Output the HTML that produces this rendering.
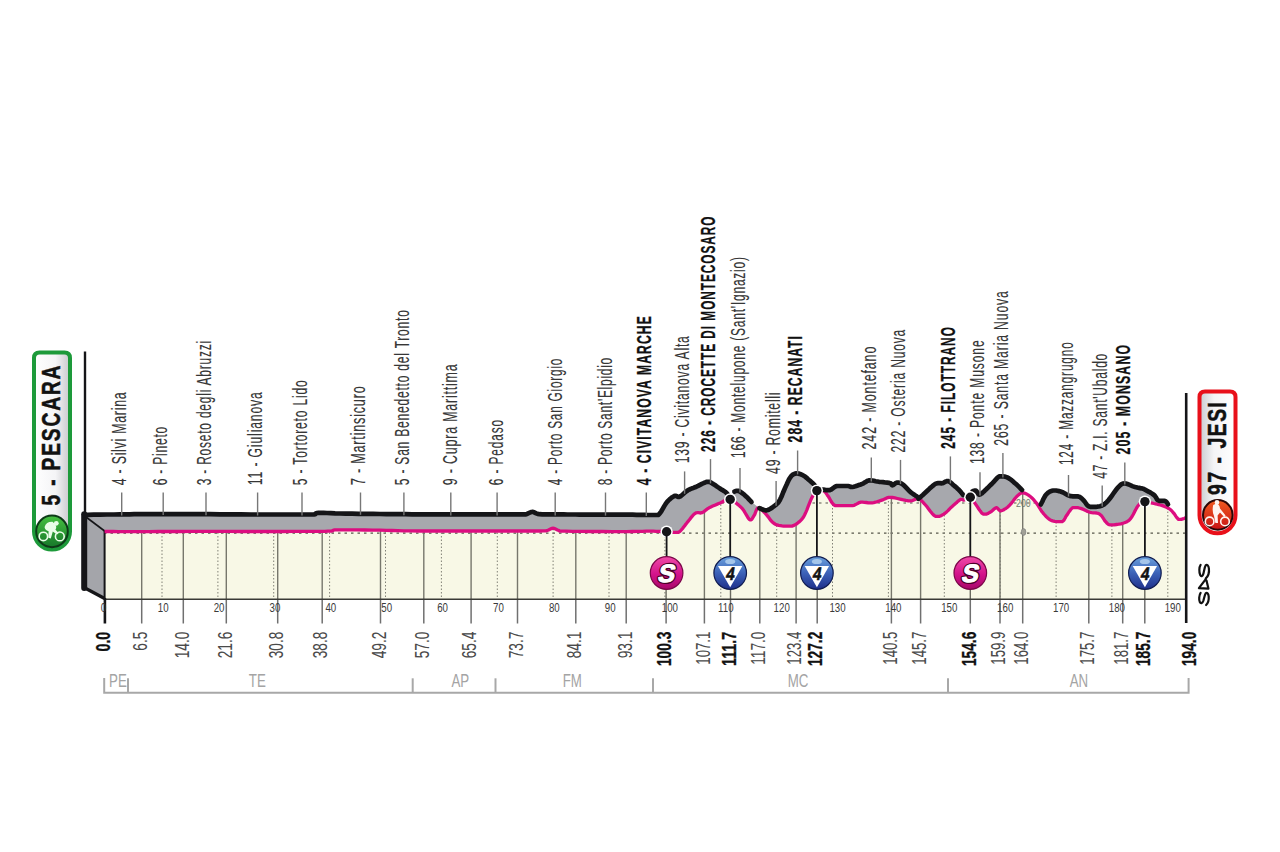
<!DOCTYPE html><html><head><meta charset="utf-8"><style>html,body{margin:0;padding:0;background:#fff;}svg{display:block}</style></head><body>
<svg width="1280" height="852" viewBox="0 0 1280 852" font-family="Liberation Sans, sans-serif">
<defs>
<linearGradient id="gS" x1="0" y1="0" x2="0" y2="1"><stop offset="0" stop-color="#f04aa8"/><stop offset="0.55" stop-color="#d2128a"/><stop offset="1" stop-color="#a8086a"/></linearGradient>
<linearGradient id="gK" x1="0" y1="0" x2="0" y2="1"><stop offset="0" stop-color="#6aa0dc"/><stop offset="0.5" stop-color="#3c62b8"/><stop offset="1" stop-color="#1e2f8a"/></linearGradient>
<linearGradient id="gG" x1="0" y1="0" x2="0" y2="1"><stop offset="0" stop-color="#46c040"/><stop offset="1" stop-color="#16782a"/></linearGradient>
<linearGradient id="gR" x1="0" y1="0" x2="0" y2="1"><stop offset="0" stop-color="#f05a20"/><stop offset="1" stop-color="#c81414"/></linearGradient>
<linearGradient id="pillL" x1="0" y1="0" x2="1" y2="0"><stop offset="0" stop-color="#ffffff"/><stop offset="0.6" stop-color="#f4f4f6"/><stop offset="1" stop-color="#c8c8cc"/></linearGradient>
<linearGradient id="pillR" x1="0" y1="0" x2="1" y2="0"><stop offset="0" stop-color="#c8ccd0"/><stop offset="0.4" stop-color="#f4f4f6"/><stop offset="1" stop-color="#ffffff"/></linearGradient>

<clipPath id="cream"><polygon points="104.6,531.5 108.2,531.5 112.9,531.5 118.5,531.6 125.1,531.6 132.3,531.6 140.0,531.6 148.6,531.6 158.2,531.5 168.5,531.5 179.1,531.5 189.7,531.4 200.0,531.4 210.0,531.4 220.0,531.4 230.0,531.4 240.0,531.5 250.0,531.5 260.0,531.5 270.6,531.5 281.8,531.5 293.0,531.4 303.6,531.4 312.8,531.3 320.0,531.3 324.8,531.3 327.8,531.2 329.4,531.2 330.2,531.2 330.9,531.1 332.0,531.0 332.9,530.8 333.0,530.6 333.4,530.1 334.8,529.9 337.8,529.8 342.8,529.8 349.3,529.8 356.8,529.9 364.7,530.0 372.7,530.1 380.0,530.2 386.3,530.3 392.0,530.5 397.6,530.6 403.8,530.8 411.0,530.9 420.0,531.0 431.5,531.0 445.2,531.0 460.0,531.0 474.8,531.0 488.5,531.0 500.0,531.0 509.4,531.0 517.5,531.0 524.5,531.0 530.6,531.0 535.7,531.0 540.0,531.0 543.2,530.9 545.0,530.9 545.9,530.8 546.4,530.7 546.7,530.5 547.5,530.3 548.5,530.0 549.5,529.5 550.4,529.1 551.2,528.6 552.1,528.3 553.0,528.2 553.9,528.3 554.8,528.6 555.6,529.1 556.5,529.5 557.5,530.0 558.5,530.3 559.1,530.5 559.1,530.7 559.2,530.9 560.0,531.0 562.0,531.1 566.0,531.2 572.6,531.3 581.4,531.4 591.6,531.5 602.1,531.5 611.9,531.6 620.0,531.6 626.6,531.6 632.4,531.5 637.5,531.4 642.1,531.3 646.2,531.2 650.0,531.2 653.3,531.2 656.0,531.3 658.3,531.4 660.2,531.5 662.1,531.6 664.0,531.7 665.9,531.8 667.8,532.0 669.5,532.1 671.1,532.3 672.5,532.4 673.9,532.4 675.1,532.4 676.0,532.4 676.9,532.4 677.7,532.4 678.5,532.3 679.5,531.7 680.6,530.8 681.7,529.5 682.9,528.1 684.1,526.5 685.3,524.9 686.6,523.3 687.9,521.6 689.4,519.8 690.8,517.9 692.3,516.1 693.7,514.5 695.0,513.4 696.2,512.8 697.4,512.7 698.6,512.7 699.7,512.9 700.8,513.0 702.0,512.7 703.1,512.1 704.2,511.4 705.3,510.5 706.4,509.6 707.7,508.7 709.1,507.8 710.8,507.0 712.7,506.1 714.8,505.2 716.8,504.4 718.7,503.6 720.3,502.9 721.6,502.3 722.6,501.7 723.5,501.2 724.3,500.8 725.1,500.4 725.9,500.1 726.7,499.8 727.4,499.6 728.0,499.4 728.7,499.4 729.4,499.4 730.2,499.4 731.0,499.7 731.9,500.2 732.8,500.7 733.8,501.4 734.8,502.1 735.8,502.9 736.9,503.7 738.0,504.6 739.2,505.6 740.4,506.7 741.6,507.9 742.8,509.2 744.0,510.9 745.2,513.0 746.5,515.2 747.7,517.2 748.8,518.8 749.8,519.8 750.7,519.8 751.4,519.6 752.1,518.8 752.8,517.7 753.4,516.6 754.1,515.5 754.8,514.3 755.4,512.7 756.0,511.0 756.7,509.5 757.4,508.4 758.3,507.8 759.3,507.9 760.4,508.5 761.5,509.5 762.8,510.7 764.0,512.1 765.3,513.4 766.6,514.9 768.0,516.6 769.4,518.5 770.8,520.4 772.3,522.0 773.8,523.3 775.4,524.2 777.0,524.9 778.7,525.3 780.4,525.6 782.0,525.9 783.6,526.1 785.1,526.1 786.6,526.1 788.0,526.1 789.3,526.1 790.7,526.1 792.0,526.1 793.3,525.7 794.5,525.1 795.7,524.4 796.9,523.7 798.0,522.8 799.1,521.9 800.1,521.0 801.0,520.1 801.9,519.1 802.8,518.0 803.7,516.6 804.7,514.8 805.8,512.4 807.0,509.6 808.2,506.4 809.5,503.2 810.6,500.4 811.7,498.0 812.6,496.2 813.4,494.7 814.1,493.4 814.9,492.4 815.7,491.6 816.6,490.9 817.7,490.9 818.9,490.9 820.2,490.9 821.4,490.9 822.6,490.9 823.7,490.9 824.6,491.5 825.4,492.3 826.1,493.2 826.7,494.2 827.5,495.4 828.4,496.6 829.3,498.0 830.2,499.7 831.2,501.5 832.3,503.2 833.7,504.7 835.5,505.7 837.8,505.7 840.7,505.7 843.8,505.7 847.0,505.7 849.9,505.7 852.3,505.7 854.2,505.3 855.6,504.6 856.9,503.9 858.1,503.2 859.3,502.6 860.8,502.2 862.5,502.2 864.4,502.3 866.3,502.5 868.3,502.8 870.2,502.9 872.0,502.9 873.7,502.6 875.5,502.2 877.1,501.7 878.8,501.2 880.4,500.6 881.9,500.1 883.3,499.6 884.6,499.0 885.8,498.4 887.1,497.8 888.6,497.4 890.3,497.3 892.4,497.5 894.8,497.9 897.4,498.5 900.0,499.1 902.4,499.7 904.4,500.1 906.0,500.4 907.3,500.6 908.3,500.8 909.3,500.8 910.3,500.8 911.4,500.8 912.6,500.5 913.7,500.0 914.9,499.4 916.1,498.9 917.2,498.7 918.4,498.7 919.5,499.2 920.7,500.0 921.8,501.0 922.9,502.2 924.2,503.6 925.5,505.0 927.0,506.8 928.6,508.9 930.3,511.2 932.0,513.3 933.7,515.1 935.3,516.3 936.8,516.3 938.2,516.3 939.6,516.3 941.0,515.7 942.4,514.9 943.8,514.1 945.2,513.1 946.6,511.9 948.0,510.6 949.4,509.1 950.8,507.7 952.2,506.4 953.7,505.1 955.2,503.7 956.7,502.4 958.2,501.1 959.5,500.1 960.6,499.4 961.4,499.4 962.0,499.4 962.5,499.5 962.9,499.8 963.4,500.1 964.1,500.1 965.0,499.7 966.0,499.1 967.1,498.4 968.2,497.7 969.2,497.3 970.2,497.3 971.0,497.7 971.7,498.3 972.3,499.2 973.0,500.3 973.7,501.5 974.7,502.9 975.9,504.6 977.3,506.7 978.8,509.0 980.3,511.1 981.7,512.9 983.1,514.1 984.3,514.1 985.5,514.1 986.7,514.1 987.8,513.6 988.9,512.9 990.0,512.3 991.1,511.6 992.2,510.7 993.3,509.7 994.3,508.8 995.4,508.1 996.3,507.7 997.1,507.9 997.8,508.5 998.5,509.3 999.2,510.1 1000.0,510.6 1000.9,510.8 1002.0,510.5 1003.3,510.0 1004.6,509.2 1006.1,508.3 1007.5,507.2 1008.8,506.1 1010.1,504.7 1011.5,503.1 1012.8,501.4 1014.1,499.6 1015.4,498.0 1016.6,496.7 1017.7,495.6 1018.7,494.7 1019.7,493.9 1020.7,493.3 1021.7,492.9 1022.8,492.8 1024.0,493.0 1025.3,493.4 1026.7,494.1 1028.1,494.9 1029.4,495.8 1030.6,496.7 1031.7,497.7 1032.8,498.7 1033.8,499.9 1034.9,501.2 1035.9,502.5 1036.9,503.8 1037.9,505.2 1038.9,506.8 1039.9,508.5 1040.9,510.1 1042.0,511.7 1043.1,513.1 1044.3,514.5 1045.5,515.8 1046.7,517.1 1048.0,518.3 1049.4,519.4 1050.9,520.2 1052.6,520.9 1054.6,521.4 1056.6,521.7 1058.6,521.7 1060.4,521.7 1061.9,521.7 1063.0,521.1 1063.9,520.3 1064.5,519.2 1065.2,518.0 1065.8,516.7 1066.6,515.5 1067.5,514.2 1068.5,512.7 1069.5,511.2 1070.6,509.7 1071.7,508.5 1072.8,507.7 1074.0,507.7 1075.2,507.7 1076.5,507.7 1077.8,507.7 1079.2,508.0 1080.6,508.4 1082.1,508.9 1083.6,509.5 1085.2,510.3 1086.8,511.1 1088.4,511.7 1090.0,512.3 1091.6,512.6 1093.3,512.8 1094.9,512.9 1096.5,513.0 1098.0,513.3 1099.4,513.9 1100.6,514.9 1101.8,516.2 1102.8,517.7 1103.8,519.2 1104.7,520.6 1105.6,521.7 1106.4,522.5 1107.0,523.3 1107.6,523.8 1108.2,524.3 1109.1,524.6 1110.3,524.8 1112.0,524.8 1114.1,524.8 1116.4,524.5 1118.7,524.2 1120.9,523.8 1122.8,523.3 1124.4,522.8 1125.7,522.3 1127.0,521.7 1128.2,520.9 1129.4,519.9 1130.6,518.6 1131.9,516.8 1133.2,514.5 1134.5,511.9 1135.9,509.3 1137.1,507.1 1138.4,505.3 1139.6,504.1 1140.8,503.1 1142.0,502.5 1143.2,502.0 1144.3,501.7 1145.5,501.5 1146.6,501.5 1147.8,501.6 1148.9,502.0 1150.0,502.4 1151.2,502.8 1152.5,503.2 1153.9,503.5 1155.5,503.8 1157.1,504.2 1158.7,504.6 1160.2,505.0 1161.7,505.4 1163.1,505.9 1164.5,506.4 1165.9,507.0 1167.1,507.6 1168.3,508.3 1169.4,508.9 1170.3,509.5 1171.1,510.2 1171.7,510.8 1172.3,511.5 1173.0,512.3 1173.7,513.1 1174.5,514.1 1175.3,515.3 1176.1,516.6 1176.9,517.7 1177.8,518.7 1178.6,519.4 1179.4,519.4 1180.3,519.4 1181.2,519.4 1182.0,519.2 1182.8,518.9 1183.5,518.7 1184.1,518.5 1184.6,518.3 1185.1,518.1 1185.4,517.8 1185.8,517.6 1186.0,517.5 1186.0,599.0 104.6,599.0"/></clipPath>
</defs>
<polygon points="104.6,531.5 108.2,531.5 112.9,531.5 118.5,531.6 125.1,531.6 132.3,531.6 140.0,531.6 148.6,531.6 158.2,531.5 168.5,531.5 179.1,531.5 189.7,531.4 200.0,531.4 210.0,531.4 220.0,531.4 230.0,531.4 240.0,531.5 250.0,531.5 260.0,531.5 270.6,531.5 281.8,531.5 293.0,531.4 303.6,531.4 312.8,531.3 320.0,531.3 324.8,531.3 327.8,531.2 329.4,531.2 330.2,531.2 330.9,531.1 332.0,531.0 332.9,530.8 333.0,530.6 333.4,530.1 334.8,529.9 337.8,529.8 342.8,529.8 349.3,529.8 356.8,529.9 364.7,530.0 372.7,530.1 380.0,530.2 386.3,530.3 392.0,530.5 397.6,530.6 403.8,530.8 411.0,530.9 420.0,531.0 431.5,531.0 445.2,531.0 460.0,531.0 474.8,531.0 488.5,531.0 500.0,531.0 509.4,531.0 517.5,531.0 524.5,531.0 530.6,531.0 535.7,531.0 540.0,531.0 543.2,530.9 545.0,530.9 545.9,530.8 546.4,530.7 546.7,530.5 547.5,530.3 548.5,530.0 549.5,529.5 550.4,529.1 551.2,528.6 552.1,528.3 553.0,528.2 553.9,528.3 554.8,528.6 555.6,529.1 556.5,529.5 557.5,530.0 558.5,530.3 559.1,530.5 559.1,530.7 559.2,530.9 560.0,531.0 562.0,531.1 566.0,531.2 572.6,531.3 581.4,531.4 591.6,531.5 602.1,531.5 611.9,531.6 620.0,531.6 626.6,531.6 632.4,531.5 637.5,531.4 642.1,531.3 646.2,531.2 650.0,531.2 653.3,531.2 656.0,531.3 658.3,531.4 660.2,531.5 662.1,531.6 664.0,531.7 665.9,531.8 667.8,532.0 669.5,532.1 671.1,532.3 672.5,532.4 673.9,532.4 675.1,532.4 676.0,532.4 676.9,532.4 677.7,532.4 678.5,532.3 679.5,531.7 680.6,530.8 681.7,529.5 682.9,528.1 684.1,526.5 685.3,524.9 686.6,523.3 687.9,521.6 689.4,519.8 690.8,517.9 692.3,516.1 693.7,514.5 695.0,513.4 696.2,512.8 697.4,512.7 698.6,512.7 699.7,512.9 700.8,513.0 702.0,512.7 703.1,512.1 704.2,511.4 705.3,510.5 706.4,509.6 707.7,508.7 709.1,507.8 710.8,507.0 712.7,506.1 714.8,505.2 716.8,504.4 718.7,503.6 720.3,502.9 721.6,502.3 722.6,501.7 723.5,501.2 724.3,500.8 725.1,500.4 725.9,500.1 726.7,499.8 727.4,499.6 728.0,499.4 728.7,499.4 729.4,499.4 730.2,499.4 731.0,499.7 731.9,500.2 732.8,500.7 733.8,501.4 734.8,502.1 735.8,502.9 736.9,503.7 738.0,504.6 739.2,505.6 740.4,506.7 741.6,507.9 742.8,509.2 744.0,510.9 745.2,513.0 746.5,515.2 747.7,517.2 748.8,518.8 749.8,519.8 750.7,519.8 751.4,519.6 752.1,518.8 752.8,517.7 753.4,516.6 754.1,515.5 754.8,514.3 755.4,512.7 756.0,511.0 756.7,509.5 757.4,508.4 758.3,507.8 759.3,507.9 760.4,508.5 761.5,509.5 762.8,510.7 764.0,512.1 765.3,513.4 766.6,514.9 768.0,516.6 769.4,518.5 770.8,520.4 772.3,522.0 773.8,523.3 775.4,524.2 777.0,524.9 778.7,525.3 780.4,525.6 782.0,525.9 783.6,526.1 785.1,526.1 786.6,526.1 788.0,526.1 789.3,526.1 790.7,526.1 792.0,526.1 793.3,525.7 794.5,525.1 795.7,524.4 796.9,523.7 798.0,522.8 799.1,521.9 800.1,521.0 801.0,520.1 801.9,519.1 802.8,518.0 803.7,516.6 804.7,514.8 805.8,512.4 807.0,509.6 808.2,506.4 809.5,503.2 810.6,500.4 811.7,498.0 812.6,496.2 813.4,494.7 814.1,493.4 814.9,492.4 815.7,491.6 816.6,490.9 817.7,490.9 818.9,490.9 820.2,490.9 821.4,490.9 822.6,490.9 823.7,490.9 824.6,491.5 825.4,492.3 826.1,493.2 826.7,494.2 827.5,495.4 828.4,496.6 829.3,498.0 830.2,499.7 831.2,501.5 832.3,503.2 833.7,504.7 835.5,505.7 837.8,505.7 840.7,505.7 843.8,505.7 847.0,505.7 849.9,505.7 852.3,505.7 854.2,505.3 855.6,504.6 856.9,503.9 858.1,503.2 859.3,502.6 860.8,502.2 862.5,502.2 864.4,502.3 866.3,502.5 868.3,502.8 870.2,502.9 872.0,502.9 873.7,502.6 875.5,502.2 877.1,501.7 878.8,501.2 880.4,500.6 881.9,500.1 883.3,499.6 884.6,499.0 885.8,498.4 887.1,497.8 888.6,497.4 890.3,497.3 892.4,497.5 894.8,497.9 897.4,498.5 900.0,499.1 902.4,499.7 904.4,500.1 906.0,500.4 907.3,500.6 908.3,500.8 909.3,500.8 910.3,500.8 911.4,500.8 912.6,500.5 913.7,500.0 914.9,499.4 916.1,498.9 917.2,498.7 918.4,498.7 919.5,499.2 920.7,500.0 921.8,501.0 922.9,502.2 924.2,503.6 925.5,505.0 927.0,506.8 928.6,508.9 930.3,511.2 932.0,513.3 933.7,515.1 935.3,516.3 936.8,516.3 938.2,516.3 939.6,516.3 941.0,515.7 942.4,514.9 943.8,514.1 945.2,513.1 946.6,511.9 948.0,510.6 949.4,509.1 950.8,507.7 952.2,506.4 953.7,505.1 955.2,503.7 956.7,502.4 958.2,501.1 959.5,500.1 960.6,499.4 961.4,499.4 962.0,499.4 962.5,499.5 962.9,499.8 963.4,500.1 964.1,500.1 965.0,499.7 966.0,499.1 967.1,498.4 968.2,497.7 969.2,497.3 970.2,497.3 971.0,497.7 971.7,498.3 972.3,499.2 973.0,500.3 973.7,501.5 974.7,502.9 975.9,504.6 977.3,506.7 978.8,509.0 980.3,511.1 981.7,512.9 983.1,514.1 984.3,514.1 985.5,514.1 986.7,514.1 987.8,513.6 988.9,512.9 990.0,512.3 991.1,511.6 992.2,510.7 993.3,509.7 994.3,508.8 995.4,508.1 996.3,507.7 997.1,507.9 997.8,508.5 998.5,509.3 999.2,510.1 1000.0,510.6 1000.9,510.8 1002.0,510.5 1003.3,510.0 1004.6,509.2 1006.1,508.3 1007.5,507.2 1008.8,506.1 1010.1,504.7 1011.5,503.1 1012.8,501.4 1014.1,499.6 1015.4,498.0 1016.6,496.7 1017.7,495.6 1018.7,494.7 1019.7,493.9 1020.7,493.3 1021.7,492.9 1022.8,492.8 1024.0,493.0 1025.3,493.4 1026.7,494.1 1028.1,494.9 1029.4,495.8 1030.6,496.7 1031.7,497.7 1032.8,498.7 1033.8,499.9 1034.9,501.2 1035.9,502.5 1036.9,503.8 1037.9,505.2 1038.9,506.8 1039.9,508.5 1040.9,510.1 1042.0,511.7 1043.1,513.1 1044.3,514.5 1045.5,515.8 1046.7,517.1 1048.0,518.3 1049.4,519.4 1050.9,520.2 1052.6,520.9 1054.6,521.4 1056.6,521.7 1058.6,521.7 1060.4,521.7 1061.9,521.7 1063.0,521.1 1063.9,520.3 1064.5,519.2 1065.2,518.0 1065.8,516.7 1066.6,515.5 1067.5,514.2 1068.5,512.7 1069.5,511.2 1070.6,509.7 1071.7,508.5 1072.8,507.7 1074.0,507.7 1075.2,507.7 1076.5,507.7 1077.8,507.7 1079.2,508.0 1080.6,508.4 1082.1,508.9 1083.6,509.5 1085.2,510.3 1086.8,511.1 1088.4,511.7 1090.0,512.3 1091.6,512.6 1093.3,512.8 1094.9,512.9 1096.5,513.0 1098.0,513.3 1099.4,513.9 1100.6,514.9 1101.8,516.2 1102.8,517.7 1103.8,519.2 1104.7,520.6 1105.6,521.7 1106.4,522.5 1107.0,523.3 1107.6,523.8 1108.2,524.3 1109.1,524.6 1110.3,524.8 1112.0,524.8 1114.1,524.8 1116.4,524.5 1118.7,524.2 1120.9,523.8 1122.8,523.3 1124.4,522.8 1125.7,522.3 1127.0,521.7 1128.2,520.9 1129.4,519.9 1130.6,518.6 1131.9,516.8 1133.2,514.5 1134.5,511.9 1135.9,509.3 1137.1,507.1 1138.4,505.3 1139.6,504.1 1140.8,503.1 1142.0,502.5 1143.2,502.0 1144.3,501.7 1145.5,501.5 1146.6,501.5 1147.8,501.6 1148.9,502.0 1150.0,502.4 1151.2,502.8 1152.5,503.2 1153.9,503.5 1155.5,503.8 1157.1,504.2 1158.7,504.6 1160.2,505.0 1161.7,505.4 1163.1,505.9 1164.5,506.4 1165.9,507.0 1167.1,507.6 1168.3,508.3 1169.4,508.9 1170.3,509.5 1171.1,510.2 1171.7,510.8 1172.3,511.5 1173.0,512.3 1173.7,513.1 1174.5,514.1 1175.3,515.3 1176.1,516.6 1176.9,517.7 1177.8,518.7 1178.6,519.4 1179.4,519.4 1180.3,519.4 1181.2,519.4 1182.0,519.2 1182.8,518.9 1183.5,518.7 1184.1,518.5 1184.6,518.3 1185.1,518.1 1185.4,517.8 1185.8,517.6 1186.0,517.5 1186.0,599.0 104.6,599.0" fill="#f8f8e6"/>
<g clip-path="url(#cream)">
<line x1="104" y1="533.2" x2="1186" y2="533.2" stroke="#55554a" stroke-width="1.2" stroke-dasharray="2.5 4"/>
<line x1="104" y1="503" x2="1186" y2="503" stroke="#55554a" stroke-width="1.2" stroke-dasharray="2.5 4"/>
<line x1="162.0" y1="480" x2="162.0" y2="599" stroke="#808076" stroke-width="1" stroke-dasharray="1.5 2"/>
<line x1="217.9" y1="480" x2="217.9" y2="599" stroke="#808076" stroke-width="1" stroke-dasharray="1.5 2"/>
<line x1="273.7" y1="480" x2="273.7" y2="599" stroke="#808076" stroke-width="1" stroke-dasharray="1.5 2"/>
<line x1="329.6" y1="480" x2="329.6" y2="599" stroke="#808076" stroke-width="1" stroke-dasharray="1.5 2"/>
<line x1="385.5" y1="480" x2="385.5" y2="599" stroke="#808076" stroke-width="1" stroke-dasharray="1.5 2"/>
<line x1="441.4" y1="480" x2="441.4" y2="599" stroke="#808076" stroke-width="1" stroke-dasharray="1.5 2"/>
<line x1="497.3" y1="480" x2="497.3" y2="599" stroke="#808076" stroke-width="1" stroke-dasharray="1.5 2"/>
<line x1="553.1" y1="480" x2="553.1" y2="599" stroke="#808076" stroke-width="1" stroke-dasharray="1.5 2"/>
<line x1="609.0" y1="480" x2="609.0" y2="599" stroke="#808076" stroke-width="1" stroke-dasharray="1.5 2"/>
<line x1="664.9" y1="480" x2="664.9" y2="599" stroke="#808076" stroke-width="1" stroke-dasharray="1.5 2"/>
<line x1="720.8" y1="480" x2="720.8" y2="599" stroke="#808076" stroke-width="1" stroke-dasharray="1.5 2"/>
<line x1="776.7" y1="480" x2="776.7" y2="599" stroke="#808076" stroke-width="1" stroke-dasharray="1.5 2"/>
<line x1="832.5" y1="480" x2="832.5" y2="599" stroke="#808076" stroke-width="1" stroke-dasharray="1.5 2"/>
<line x1="888.4" y1="480" x2="888.4" y2="599" stroke="#808076" stroke-width="1" stroke-dasharray="1.5 2"/>
<line x1="944.3" y1="480" x2="944.3" y2="599" stroke="#808076" stroke-width="1" stroke-dasharray="1.5 2"/>
<line x1="1000.2" y1="480" x2="1000.2" y2="599" stroke="#808076" stroke-width="1" stroke-dasharray="1.5 2"/>
<line x1="1056.1" y1="480" x2="1056.1" y2="599" stroke="#808076" stroke-width="1" stroke-dasharray="1.5 2"/>
<line x1="1111.9" y1="480" x2="1111.9" y2="599" stroke="#808076" stroke-width="1" stroke-dasharray="1.5 2"/>
<line x1="1167.8" y1="480" x2="1167.8" y2="599" stroke="#808076" stroke-width="1" stroke-dasharray="1.5 2"/>
<line x1="141.7" y1="480" x2="141.7" y2="599" stroke="#77776c" stroke-width="1.4"/>
<line x1="183.3" y1="480" x2="183.3" y2="599" stroke="#77776c" stroke-width="1.4"/>
<line x1="226.3" y1="480" x2="226.3" y2="599" stroke="#77776c" stroke-width="1.4"/>
<line x1="277.7" y1="480" x2="277.7" y2="599" stroke="#77776c" stroke-width="1.4"/>
<line x1="322.2" y1="480" x2="322.2" y2="599" stroke="#77776c" stroke-width="1.4"/>
<line x1="380.5" y1="480" x2="380.5" y2="599" stroke="#77776c" stroke-width="1.4"/>
<line x1="423.8" y1="480" x2="423.8" y2="599" stroke="#77776c" stroke-width="1.4"/>
<line x1="471.1" y1="480" x2="471.1" y2="599" stroke="#77776c" stroke-width="1.4"/>
<line x1="517.5" y1="480" x2="517.5" y2="599" stroke="#77776c" stroke-width="1.4"/>
<line x1="575.8" y1="480" x2="575.8" y2="599" stroke="#77776c" stroke-width="1.4"/>
<line x1="626.2" y1="480" x2="626.2" y2="599" stroke="#77776c" stroke-width="1.4"/>
<line x1="704.4" y1="480" x2="704.4" y2="599" stroke="#77776c" stroke-width="1.4"/>
<line x1="759.8" y1="480" x2="759.8" y2="599" stroke="#77776c" stroke-width="1.4"/>
<line x1="796.1" y1="480" x2="796.1" y2="599" stroke="#77776c" stroke-width="1.4"/>
<line x1="891.4" y1="480" x2="891.4" y2="599" stroke="#77776c" stroke-width="1.4"/>
<line x1="920.6" y1="480" x2="920.6" y2="599" stroke="#77776c" stroke-width="1.4"/>
<line x1="1000.0" y1="480" x2="1000.0" y2="599" stroke="#77776c" stroke-width="1.4"/>
<line x1="1022.7" y1="480" x2="1022.7" y2="599" stroke="#77776c" stroke-width="1.4"/>
<line x1="1088.8" y1="480" x2="1088.8" y2="599" stroke="#77776c" stroke-width="1.4"/>
<line x1="1122.7" y1="480" x2="1122.7" y2="599" stroke="#77776c" stroke-width="1.4"/>
</g>
<line x1="666.1" y1="585" x2="666.1" y2="599" stroke="#6a6a60" stroke-width="1.4"/>
<line x1="730.5" y1="585" x2="730.5" y2="599" stroke="#6a6a60" stroke-width="1.4"/>
<line x1="817.2" y1="585" x2="817.2" y2="599" stroke="#6a6a60" stroke-width="1.4"/>
<line x1="970.3" y1="585" x2="970.3" y2="599" stroke="#6a6a60" stroke-width="1.4"/>
<line x1="1144.8" y1="585" x2="1144.8" y2="599" stroke="#6a6a60" stroke-width="1.4"/>
<line x1="141.7" y1="599" x2="141.7" y2="623.5" stroke="#707070" stroke-width="1.5"/>
<line x1="183.3" y1="599" x2="183.3" y2="623.5" stroke="#707070" stroke-width="1.5"/>
<line x1="226.3" y1="599" x2="226.3" y2="623.5" stroke="#707070" stroke-width="1.5"/>
<line x1="277.7" y1="599" x2="277.7" y2="623.5" stroke="#707070" stroke-width="1.5"/>
<line x1="322.2" y1="599" x2="322.2" y2="623.5" stroke="#707070" stroke-width="1.5"/>
<line x1="380.5" y1="599" x2="380.5" y2="623.5" stroke="#707070" stroke-width="1.5"/>
<line x1="423.8" y1="599" x2="423.8" y2="623.5" stroke="#707070" stroke-width="1.5"/>
<line x1="471.1" y1="599" x2="471.1" y2="623.5" stroke="#707070" stroke-width="1.5"/>
<line x1="517.5" y1="599" x2="517.5" y2="623.5" stroke="#707070" stroke-width="1.5"/>
<line x1="575.8" y1="599" x2="575.8" y2="623.5" stroke="#707070" stroke-width="1.5"/>
<line x1="626.2" y1="599" x2="626.2" y2="623.5" stroke="#707070" stroke-width="1.5"/>
<line x1="666.1" y1="599" x2="666.1" y2="623.5" stroke="#707070" stroke-width="1.5"/>
<line x1="704.4" y1="599" x2="704.4" y2="623.5" stroke="#707070" stroke-width="1.5"/>
<line x1="730.5" y1="599" x2="730.5" y2="623.5" stroke="#707070" stroke-width="1.5"/>
<line x1="759.8" y1="599" x2="759.8" y2="623.5" stroke="#707070" stroke-width="1.5"/>
<line x1="796.1" y1="599" x2="796.1" y2="623.5" stroke="#707070" stroke-width="1.5"/>
<line x1="817.2" y1="599" x2="817.2" y2="623.5" stroke="#707070" stroke-width="1.5"/>
<line x1="891.4" y1="599" x2="891.4" y2="623.5" stroke="#707070" stroke-width="1.5"/>
<line x1="920.6" y1="599" x2="920.6" y2="623.5" stroke="#707070" stroke-width="1.5"/>
<line x1="970.3" y1="599" x2="970.3" y2="623.5" stroke="#707070" stroke-width="1.5"/>
<line x1="1000.0" y1="599" x2="1000.0" y2="623.5" stroke="#707070" stroke-width="1.5"/>
<line x1="1022.7" y1="599" x2="1022.7" y2="623.5" stroke="#707070" stroke-width="1.5"/>
<line x1="1088.8" y1="599" x2="1088.8" y2="623.5" stroke="#707070" stroke-width="1.5"/>
<line x1="1122.7" y1="599" x2="1122.7" y2="623.5" stroke="#707070" stroke-width="1.5"/>
<line x1="1144.8" y1="599" x2="1144.8" y2="623.5" stroke="#707070" stroke-width="1.5"/>
<polygon points="84.0,514.8 88.0,514.8 93.6,514.7 100.1,514.6 104.6,514.6 107.1,514.5 108.2,514.5 112.9,514.5 113.9,514.5 118.5,514.4 120.0,514.4 125.1,514.3 129.7,514.3 132.3,514.2 134.1,514.2 138.7,514.2 140.0,514.2 143.9,514.1 148.6,514.1 150.0,514.1 157.1,514.1 158.2,514.1 164.8,514.1 168.5,514.1 173.1,514.1 179.1,514.1 181.9,514.1 189.7,514.2 190.9,514.2 200.0,514.2 209.7,514.2 210.0,514.2 220.0,514.3 230.0,514.4 230.6,514.4 240.0,514.4 241.1,514.4 250.0,514.5 251.0,514.5 260.0,514.5 268.1,514.5 270.6,514.5 275.8,514.5 281.8,514.5 282.9,514.5 289.3,514.5 293.0,514.5 295.1,514.5 300.0,514.5 303.6,514.5 303.9,514.5 306.9,514.5 309.2,514.5 311.0,514.5 312.5,514.5 312.8,514.5 314.0,514.4 315.1,514.2 315.6,513.8 315.8,513.5 316.1,513.2 316.9,512.9 318.5,512.8 320.0,512.8 320.9,512.8 323.7,512.9 324.8,512.9 327.0,513.0 327.8,513.1 329.4,513.1 330.2,513.2 330.8,513.2 330.9,513.2 332.0,513.2 332.9,513.3 333.0,513.3 333.4,513.3 334.8,513.4 335.1,513.4 337.8,513.4 340.0,513.5 342.8,513.5 345.6,513.6 349.3,513.7 352.0,513.7 356.8,513.7 358.8,513.8 364.7,513.8 366.0,513.9 372.7,513.9 373.1,513.9 380.0,514.0 386.3,514.1 386.4,514.1 392.0,514.1 392.6,514.1 397.6,514.2 398.8,514.2 403.8,514.2 405.2,514.2 411.0,514.3 412.2,514.3 420.0,514.3 429.1,514.3 431.5,514.3 439.3,514.4 445.2,514.4 450.0,514.4 460.0,514.4 460.7,514.4 470.9,514.4 474.8,514.4 480.0,514.4 488.2,514.4 488.5,514.4 496.1,514.4 500.0,514.4 503.4,514.4 509.4,514.4 509.9,514.4 515.5,514.4 517.5,514.4 520.0,514.4 523.0,514.4 524.5,514.4 525.1,514.4 525.2,514.4 525.4,514.3 526.0,514.2 527.1,513.9 528.1,513.4 529.2,512.9 530.4,512.4 530.6,512.3 531.5,512.0 532.6,511.9 533.6,512.1 534.4,512.4 535.2,512.9 535.7,513.2 536.2,513.4 537.6,513.9 539.5,514.2 540.0,514.2 542.1,514.4 543.2,514.4 545.0,514.4 545.2,514.4 545.9,514.4 546.4,514.4 546.7,514.4 547.5,514.4 548.5,514.4 548.7,514.4 549.5,514.4 550.4,514.4 551.2,514.4 552.1,514.4 552.4,514.4 553.0,514.4 553.9,514.4 554.8,514.4 555.6,514.4 556.2,514.4 556.5,514.4 557.5,514.4 558.5,514.4 559.1,514.4 559.2,514.4 560.0,514.4 562.0,514.4 563.7,514.4 566.0,514.5 567.5,514.5 571.4,514.5 572.6,514.5 575.4,514.5 579.6,514.6 581.4,514.6 584.0,514.6 588.7,514.6 591.6,514.6 593.7,514.6 598.9,514.6 602.1,514.6 604.1,514.6 609.2,514.6 611.9,514.6 614.0,514.6 618.7,514.6 620.0,514.6 623.6,514.7 626.6,514.7 628.2,514.7 632.4,514.7 632.7,514.7 636.6,514.8 637.5,514.8 640.0,514.8 642.1,514.8 642.6,514.8 644.6,514.9 646.1,514.9 646.2,514.9 647.4,515.0 648.6,515.0 650.0,515.0 651.5,515.0 652.9,515.0 653.3,515.0 654.3,515.0 655.7,515.0 656.0,515.0 657.0,515.0 658.3,514.8 658.4,514.8 659.8,513.4 660.2,512.8 661.3,511.2 662.1,509.9 662.7,508.9 664.0,506.6 664.1,506.4 665.5,504.1 665.9,503.6 666.9,502.2 667.8,501.2 668.3,500.7 669.5,499.5 669.6,499.4 671.0,498.2 671.1,498.1 672.3,497.2 672.5,497.1 673.5,496.5 673.9,496.3 674.6,495.9 675.1,495.9 675.5,495.9 676.0,495.9 676.3,495.9 676.9,496.3 677.0,496.4 677.7,496.8 678.5,496.8 679.5,496.8 680.6,496.2 680.7,496.1 681.7,495.3 682.1,495.0 682.9,494.3 683.5,493.8 684.1,493.3 685.0,492.5 685.3,492.2 686.5,491.2 686.6,491.2 687.9,490.3 688.0,490.2 689.4,489.4 690.7,488.9 690.8,488.8 692.1,488.3 692.3,488.3 693.4,487.9 693.7,487.8 694.9,487.3 695.0,487.3 696.2,486.8 696.4,486.7 697.4,486.2 698.1,485.9 698.6,485.6 699.7,485.1 700.0,484.9 700.8,484.5 701.9,484.0 702.0,483.9 703.1,483.4 703.8,483.0 704.2,482.8 705.3,482.4 705.5,482.3 706.4,482.0 707.0,481.8 707.7,481.8 708.1,481.8 708.9,481.8 709.1,481.8 709.6,481.9 710.2,482.2 710.8,482.6 710.9,482.6 711.9,483.2 712.7,483.7 713.1,483.9 714.5,484.8 714.8,485.0 716.0,485.8 716.8,486.4 717.5,486.9 718.7,487.7 719.0,487.9 720.3,488.8 721.5,489.6 721.6,489.6 722.6,490.2 722.7,490.2 723.5,490.7 723.7,490.8 724.3,491.2 724.8,491.5 725.1,491.7 725.7,492.2 725.9,492.3 726.6,493.0 726.7,493.1 727.4,494.0 728.0,495.0 728.1,495.2 728.7,496.3 728.8,496.5 729.4,497.7 729.8,498.6 730.2,499.4 731.0,497.9 731.9,496.2 732.8,494.6 733.8,492.7 734.4,491.6 734.8,491.5 735.4,491.2 735.8,491.0 736.1,490.9 736.8,490.9 736.9,490.9 737.7,490.9 738.0,490.9 738.6,490.9 739.2,491.2 739.6,491.4 740.4,491.9 740.8,492.1 741.6,492.7 742.0,493.0 742.8,493.6 743.2,493.9 744.0,494.6 744.5,495.0 745.2,495.6 745.6,495.9 746.5,496.7 746.7,496.9 747.7,497.9 747.9,498.1 748.8,499.1 749.0,499.3 749.8,500.1 750.0,500.4 750.7,501.1 750.9,501.4 751.4,501.9 751.5,502.0 752.1,502.5 752.8,503.0 753.4,503.5 754.1,504.0 754.8,504.6 755.4,505.0 756.0,505.5 756.7,506.0 757.4,506.6 758.3,507.3 759.3,507.9 759.5,508.0 760.3,508.5 760.4,508.5 761.4,509.0 761.5,509.0 762.7,509.5 762.8,509.5 764.0,510.0 765.3,510.2 765.4,510.3 766.6,510.3 766.7,510.3 767.9,510.0 768.0,510.0 769.1,509.5 769.4,509.4 770.4,508.8 770.8,508.5 771.5,508.1 772.3,507.5 772.7,507.2 773.8,506.4 774.8,505.7 775.4,505.2 775.8,504.9 776.7,504.1 777.0,503.8 777.6,503.2 778.5,502.1 778.7,501.8 779.4,500.8 780.3,499.1 780.4,498.9 781.3,497.0 782.0,495.3 782.2,494.8 783.1,492.6 783.6,491.3 784.1,490.1 785.0,488.1 785.1,487.9 785.9,486.1 786.6,484.6 786.9,483.9 787.8,481.9 788.0,481.5 788.7,480.1 789.3,479.0 789.7,478.2 790.6,476.9 790.7,476.8 791.5,475.8 792.0,475.4 792.4,475.0 793.3,474.4 793.4,474.3 794.3,473.9 794.5,473.8 795.3,473.6 795.7,473.5 796.3,473.4 796.9,473.4 797.4,473.4 798.0,473.5 798.5,473.6 799.1,473.7 799.7,473.9 800.1,474.0 800.9,474.3 801.0,474.4 801.9,474.8 802.1,474.9 802.8,475.2 803.3,475.5 803.7,475.7 804.5,476.2 804.7,476.4 805.7,477.1 805.8,477.2 806.9,478.1 807.0,478.2 808.1,479.1 808.2,479.2 809.3,480.2 809.5,480.4 810.3,481.1 810.6,481.4 811.3,482.0 811.7,482.3 812.2,482.8 812.6,483.1 813.1,483.6 813.4,483.9 813.9,484.4 814.1,484.6 814.6,485.2 814.9,485.6 815.2,486.0 815.7,487.0 816.0,487.9 816.2,488.7 816.4,489.8 816.5,490.4 816.6,490.9 817.7,490.7 818.9,490.4 820.2,490.1 821.4,489.8 822.6,489.5 822.8,489.5 823.6,489.6 823.7,489.7 824.6,489.9 825.4,490.0 825.9,490.1 826.1,490.1 826.7,490.2 827.2,490.2 827.5,490.2 828.4,490.2 828.5,490.2 829.3,490.2 829.8,490.2 830.2,490.0 830.9,489.7 831.2,489.6 832.0,489.0 832.3,488.8 833.1,488.1 833.7,487.7 834.2,487.3 835.5,486.5 836.9,486.0 837.8,486.0 838.6,486.0 840.6,486.0 840.7,486.0 842.7,486.0 843.8,486.0 844.7,486.0 846.6,486.0 847.0,486.0 848.1,486.0 849.1,486.2 849.8,486.4 849.9,486.5 850.3,486.7 850.7,486.9 851.4,487.0 852.3,487.0 853.7,486.7 854.2,486.6 855.3,486.3 855.6,486.2 856.9,485.8 857.1,485.7 858.1,485.4 858.9,485.1 859.3,485.0 860.7,484.5 860.8,484.4 862.2,483.9 862.5,483.8 863.5,483.3 864.4,482.7 864.6,482.6 865.7,481.9 866.3,481.5 866.8,481.2 867.9,480.7 868.3,480.6 869.2,480.4 870.2,480.4 870.7,480.4 872.0,480.5 872.2,480.5 873.7,480.8 873.9,480.8 875.5,481.1 875.6,481.2 877.1,481.5 877.3,481.5 878.8,481.8 879.1,481.8 880.4,482.0 881.0,482.0 881.9,482.1 883.1,482.2 883.3,482.3 884.6,482.4 885.2,482.5 885.8,482.5 887.1,482.7 887.2,482.7 888.6,482.9 888.9,482.9 890.3,483.2 891.1,483.5 891.6,484.1 891.7,484.4 891.8,484.8 892.0,485.2 892.4,485.3 893.0,485.1 893.8,484.5 894.6,483.9 894.8,483.8 895.5,483.3 896.4,482.7 897.3,482.5 897.4,482.5 898.2,482.5 899.1,482.7 900.0,482.9 901.0,483.4 902.0,483.9 902.4,484.2 903.0,484.6 904.1,485.5 904.4,485.8 905.2,486.6 906.0,487.5 906.4,487.9 907.3,488.9 907.6,489.2 908.3,489.9 908.8,490.5 909.3,490.9 910.0,491.6 910.3,491.8 911.2,492.6 911.4,492.7 912.6,493.6 913.7,494.4 913.9,494.5 914.9,495.2 915.2,495.4 916.1,496.0 916.2,496.1 917.0,496.6 917.2,496.9 918.4,498.7 919.0,498.2 919.5,497.8 919.7,497.6 920.6,496.8 920.7,496.7 921.6,496.0 921.8,495.8 922.8,494.9 922.9,494.8 924.1,493.8 924.2,493.7 925.5,492.5 925.7,492.3 927.0,491.1 927.6,490.5 928.6,489.6 929.6,488.6 930.3,488.0 931.7,486.7 932.0,486.4 933.6,485.1 933.7,485.0 935.3,483.9 936.7,483.3 936.8,483.3 938.0,483.2 938.2,483.2 939.1,483.2 939.6,483.2 940.2,483.2 941.0,483.3 941.3,483.3 942.3,483.2 942.4,483.2 943.3,482.9 943.8,482.6 944.3,482.4 945.2,481.9 946.2,481.4 946.6,481.3 947.1,481.1 948.0,481.1 948.9,481.4 949.4,481.7 949.9,482.0 950.8,482.7 951.8,483.6 952.2,484.0 952.7,484.4 953.6,485.2 953.7,485.3 954.5,485.9 955.2,486.5 955.5,486.8 956.4,487.6 956.7,487.8 957.3,488.4 958.2,489.2 959.0,490.0 959.5,490.5 959.8,490.9 960.6,491.8 961.4,492.8 962.0,493.5 962.2,493.8 962.5,494.1 962.8,494.5 962.9,494.6 963.2,495.0 963.4,494.9 964.1,494.6 965.0,494.3 966.0,493.9 967.1,493.4 968.2,493.0 969.2,492.6 970.2,492.2 971.0,491.8 971.7,491.6 972.3,491.3 972.6,491.2 973.0,491.1 973.5,490.9 973.7,490.8 974.1,490.6 974.7,490.6 975.4,490.6 975.9,490.6 976.0,490.6 976.5,491.1 977.0,491.9 977.3,492.4 977.5,492.8 978.1,493.8 978.7,494.4 978.8,494.4 979.5,494.6 980.3,494.3 980.4,494.3 981.5,493.6 981.7,493.4 982.7,492.6 983.1,492.2 983.9,491.5 984.3,491.1 985.1,490.3 985.5,489.9 986.3,489.2 986.7,488.8 987.5,488.1 987.8,487.8 988.7,486.9 988.9,486.7 989.9,485.7 990.0,485.6 991.1,484.5 992.2,483.4 992.3,483.3 993.3,482.3 993.4,482.2 994.3,481.2 994.4,481.1 995.4,479.9 996.3,478.9 996.4,478.8 997.1,478.0 997.3,477.8 997.8,477.4 998.3,477.0 998.5,476.9 999.2,476.5 999.4,476.4 1000.0,476.4 1000.6,476.4 1000.9,476.4 1001.9,476.4 1002.0,476.4 1003.2,476.4 1003.3,476.4 1004.5,476.5 1004.6,476.5 1005.9,476.9 1006.1,477.0 1007.2,477.4 1007.5,477.6 1008.5,478.1 1008.8,478.3 1009.8,478.9 1010.1,479.1 1011.2,480.0 1011.5,480.2 1012.5,481.1 1012.8,481.3 1013.7,482.1 1014.1,482.4 1015.0,483.2 1015.4,483.6 1016.3,484.3 1016.6,484.6 1017.7,485.7 1018.7,486.6 1019.0,486.9 1019.7,487.6 1020.2,488.1 1020.7,488.6 1021.2,489.1 1021.7,489.6 1022.0,489.9 1022.8,490.5 1024.0,491.5 1025.3,492.5 1026.7,493.6 1028.1,494.6 1029.4,495.6 1030.6,496.6 1031.7,497.4 1032.8,498.3 1033.8,499.1 1034.9,499.9 1035.9,500.7 1036.9,501.5 1037.9,502.2 1038.9,503.0 1039.9,503.8 1040.8,504.5 1040.9,504.3 1041.4,503.3 1042.0,502.0 1042.2,501.6 1043.1,499.7 1044.2,497.6 1044.3,497.4 1045.2,495.9 1045.5,495.5 1046.3,494.4 1046.7,494.0 1047.4,493.3 1048.0,492.8 1048.5,492.4 1049.4,491.9 1049.6,491.7 1050.8,491.2 1050.9,491.1 1052.0,490.8 1052.6,490.6 1053.3,490.5 1054.6,490.5 1054.7,490.5 1056.1,490.5 1056.6,490.6 1057.5,490.8 1058.6,491.0 1059.0,491.1 1060.4,491.5 1060.5,491.6 1061.9,492.0 1063.0,492.5 1063.2,492.5 1063.9,492.9 1064.5,493.2 1065.2,493.7 1065.8,494.0 1066.6,494.5 1067.0,494.7 1067.5,495.0 1068.3,495.4 1068.5,495.5 1069.5,495.8 1069.7,495.9 1070.6,496.1 1071.2,496.2 1071.7,496.2 1072.8,496.3 1072.9,496.3 1074.0,496.3 1074.5,496.3 1075.2,496.3 1076.2,496.3 1076.5,496.3 1077.7,496.4 1077.8,496.4 1079.0,496.7 1079.2,496.8 1080.1,497.2 1080.6,497.5 1080.9,497.7 1081.7,498.4 1082.1,498.8 1082.4,499.1 1083.1,499.9 1083.6,500.4 1083.8,500.6 1084.6,501.5 1085.2,502.4 1085.3,502.5 1086.0,503.5 1086.7,504.5 1086.8,504.6 1087.5,505.4 1088.4,506.1 1089.3,506.5 1090.0,506.7 1090.3,506.8 1091.3,506.9 1091.6,506.9 1092.4,506.9 1093.3,506.9 1093.5,506.9 1094.7,506.9 1094.9,506.9 1095.9,506.8 1096.5,506.8 1097.2,506.7 1098.0,506.6 1098.6,506.5 1099.4,506.3 1100.0,506.2 1100.6,506.0 1101.3,505.8 1101.8,505.6 1102.5,505.3 1102.8,505.1 1103.6,504.7 1103.8,504.6 1104.6,504.0 1104.7,503.9 1105.6,503.2 1106.4,502.4 1106.5,502.3 1107.0,501.8 1107.6,501.2 1108.2,500.5 1108.8,499.8 1109.1,499.4 1110.2,498.0 1110.3,497.9 1111.8,495.8 1112.0,495.5 1113.4,493.5 1114.1,492.5 1115.1,491.1 1116.4,489.4 1116.7,489.0 1118.1,487.3 1118.7,486.7 1119.3,486.1 1120.3,485.1 1120.9,484.6 1121.2,484.4 1122.2,483.8 1122.8,483.7 1123.2,483.5 1124.4,483.4 1125.7,483.5 1125.8,483.5 1127.0,483.9 1127.4,484.0 1128.2,484.3 1129.1,484.7 1129.4,484.8 1130.6,485.3 1130.8,485.4 1131.9,485.9 1132.4,486.1 1133.2,486.4 1133.8,486.6 1134.5,486.8 1135.0,486.9 1135.9,487.2 1136.2,487.2 1137.1,487.4 1137.2,487.5 1138.2,487.7 1138.4,487.7 1139.1,487.9 1139.6,488.0 1140.0,488.1 1140.7,488.2 1140.8,488.3 1141.3,488.3 1141.8,488.4 1142.0,488.4 1142.3,488.5 1143.0,488.7 1143.2,488.8 1144.0,489.2 1144.3,489.4 1145.4,489.9 1145.5,490.0 1146.6,490.5 1147.1,490.8 1147.8,491.2 1148.9,491.8 1149.0,491.8 1150.0,492.4 1150.9,492.9 1151.2,493.1 1152.5,493.9 1152.6,494.0 1153.9,494.9 1154.0,495.0 1155.0,496.0 1155.5,496.7 1155.7,497.0 1156.3,498.0 1156.8,498.9 1157.1,499.4 1157.4,499.8 1158.2,500.4 1158.7,500.6 1159.3,500.8 1160.2,500.9 1160.5,500.9 1161.7,500.9 1161.8,500.9 1163.1,500.9 1164.2,500.9 1164.5,500.9 1165.2,501.1 1165.9,501.5 1166.5,502.1 1167.0,502.7 1167.1,502.8 1167.4,503.3 1167.7,503.8 1168.0,504.3 1168.3,508.2 1169.4,508.9 1170.3,509.5 1171.1,510.2 1171.7,510.8 1172.3,511.5 1173.0,512.3 1173.7,513.1 1174.5,514.1 1175.3,515.3 1176.1,516.5 1176.9,517.7 1177.8,518.7 1178.6,519.4 1179.4,519.4 1180.3,519.4 1181.2,519.4 1182.0,519.2 1182.8,518.9 1183.5,518.7 1184.1,518.5 1184.6,518.3 1185.1,518.0 1185.4,517.9 1185.8,517.6 1186.0,517.5 1186.0,517.5 1185.8,517.6 1185.4,517.8 1185.1,518.1 1184.6,518.3 1184.1,518.5 1183.5,518.7 1182.8,518.9 1182.0,519.2 1181.2,519.4 1180.3,519.4 1179.4,519.4 1178.6,519.4 1177.8,518.7 1176.9,517.7 1176.1,516.6 1175.3,515.3 1174.5,514.1 1173.7,513.1 1173.0,512.3 1172.3,511.5 1171.7,510.8 1171.1,510.2 1170.3,509.5 1169.4,508.9 1168.3,508.3 1167.1,507.6 1165.9,507.0 1164.5,506.4 1163.1,505.9 1161.7,505.4 1160.2,505.0 1158.7,504.6 1157.1,504.2 1155.5,503.8 1153.9,503.5 1152.5,503.2 1151.2,502.8 1150.0,502.4 1148.9,502.0 1147.8,501.6 1146.6,501.5 1145.5,501.5 1144.3,501.7 1143.2,502.0 1142.0,502.5 1140.8,503.1 1139.6,504.1 1138.4,505.3 1137.1,507.1 1135.9,509.3 1134.5,511.9 1133.2,514.5 1131.9,516.8 1130.6,518.6 1129.4,519.9 1128.2,520.9 1127.0,521.7 1125.7,522.3 1124.4,522.8 1122.8,523.3 1120.9,523.8 1118.7,524.2 1116.4,524.5 1114.1,524.8 1112.0,524.8 1110.3,524.8 1109.1,524.6 1108.2,524.3 1107.6,523.8 1107.0,523.3 1106.4,522.5 1105.6,521.7 1104.7,520.6 1103.8,519.2 1102.8,517.7 1101.8,516.2 1100.6,514.9 1099.4,513.9 1098.0,513.3 1096.5,513.0 1094.9,512.9 1093.3,512.8 1091.6,512.6 1090.0,512.3 1088.4,511.7 1086.8,511.1 1085.2,510.3 1083.6,509.5 1082.1,508.9 1080.6,508.4 1079.2,508.0 1077.8,507.7 1076.5,507.7 1075.2,507.7 1074.0,507.7 1072.8,507.7 1071.7,508.5 1070.6,509.7 1069.5,511.2 1068.5,512.7 1067.5,514.2 1066.6,515.5 1065.8,516.7 1065.2,518.0 1064.5,519.2 1063.9,520.3 1063.0,521.1 1061.9,521.7 1060.4,521.7 1058.6,521.7 1056.6,521.7 1054.6,521.4 1052.6,520.9 1050.9,520.2 1049.4,519.4 1048.0,518.3 1046.7,517.1 1045.5,515.8 1044.3,514.5 1043.1,513.1 1042.0,511.7 1040.9,510.1 1039.9,508.5 1038.9,506.8 1037.9,505.2 1036.9,503.8 1035.9,502.5 1034.9,501.2 1033.8,499.9 1032.8,498.7 1031.7,497.7 1030.6,496.7 1029.4,495.8 1028.1,494.9 1026.7,494.1 1025.3,493.4 1024.0,493.0 1022.8,492.8 1021.7,492.9 1020.7,493.3 1019.7,493.9 1018.7,494.7 1017.7,495.6 1016.6,496.7 1015.4,498.0 1014.1,499.6 1012.8,501.4 1011.5,503.1 1010.1,504.7 1008.8,506.1 1007.5,507.2 1006.1,508.3 1004.6,509.2 1003.3,510.0 1002.0,510.5 1000.9,510.8 1000.0,510.6 999.2,510.1 998.5,509.3 997.8,508.5 997.1,507.9 996.3,507.7 995.4,508.1 994.3,508.8 993.3,509.7 992.2,510.7 991.1,511.6 990.0,512.3 988.9,512.9 987.8,513.6 986.7,514.1 985.5,514.1 984.3,514.1 983.1,514.1 981.7,512.9 980.3,511.1 978.8,509.0 977.3,506.7 975.9,504.6 974.7,502.9 973.7,501.5 973.0,500.3 972.3,499.2 971.7,498.3 971.0,497.7 970.2,497.3 969.2,497.3 968.2,497.7 967.1,498.4 966.0,499.1 965.0,499.7 964.1,500.1 963.4,500.1 962.9,499.8 962.5,499.5 962.0,499.4 961.4,499.4 960.6,499.4 959.5,500.1 958.2,501.1 956.7,502.4 955.2,503.7 953.7,505.1 952.2,506.4 950.8,507.7 949.4,509.1 948.0,510.6 946.6,511.9 945.2,513.1 943.8,514.1 942.4,514.9 941.0,515.7 939.6,516.3 938.2,516.3 936.8,516.3 935.3,516.3 933.7,515.1 932.0,513.3 930.3,511.2 928.6,508.9 927.0,506.8 925.5,505.0 924.2,503.6 922.9,502.2 921.8,501.0 920.7,500.0 919.5,499.2 918.4,498.7 917.2,498.7 916.1,498.9 914.9,499.4 913.7,500.0 912.6,500.5 911.4,500.8 910.3,500.8 909.3,500.8 908.3,500.8 907.3,500.6 906.0,500.4 904.4,500.1 902.4,499.7 900.0,499.1 897.4,498.5 894.8,497.9 892.4,497.5 890.3,497.3 888.6,497.4 887.1,497.8 885.8,498.4 884.6,499.0 883.3,499.6 881.9,500.1 880.4,500.6 878.8,501.2 877.1,501.7 875.5,502.2 873.7,502.6 872.0,502.9 870.2,502.9 868.3,502.8 866.3,502.5 864.4,502.3 862.5,502.2 860.8,502.2 859.3,502.6 858.1,503.2 856.9,503.9 855.6,504.6 854.2,505.3 852.3,505.7 849.9,505.7 847.0,505.7 843.8,505.7 840.7,505.7 837.8,505.7 835.5,505.7 833.7,504.7 832.3,503.2 831.2,501.5 830.2,499.7 829.3,498.0 828.4,496.6 827.5,495.4 826.7,494.2 826.1,493.2 825.4,492.3 824.6,491.5 823.7,490.9 822.6,490.9 821.4,490.9 820.2,490.9 818.9,490.9 817.7,490.9 816.6,490.9 815.7,491.6 814.9,492.4 814.1,493.4 813.4,494.7 812.6,496.2 811.7,498.0 810.6,500.4 809.5,503.2 808.2,506.4 807.0,509.6 805.8,512.4 804.7,514.8 803.7,516.6 802.8,518.0 801.9,519.1 801.0,520.1 800.1,521.0 799.1,521.9 798.0,522.8 796.9,523.7 795.7,524.4 794.5,525.1 793.3,525.7 792.0,526.1 790.7,526.1 789.3,526.1 788.0,526.1 786.6,526.1 785.1,526.1 783.6,526.1 782.0,525.9 780.4,525.6 778.7,525.3 777.0,524.9 775.4,524.2 773.8,523.3 772.3,522.0 770.8,520.4 769.4,518.5 768.0,516.6 766.6,514.9 765.3,513.4 764.0,512.1 762.8,510.7 761.5,509.5 760.4,508.5 759.3,507.9 758.3,507.8 757.4,508.4 756.7,509.5 756.0,511.0 755.4,512.7 754.8,514.3 754.1,515.5 753.4,516.6 752.8,517.7 752.1,518.8 751.4,519.6 750.7,519.8 749.8,519.8 748.8,518.8 747.7,517.2 746.5,515.2 745.2,513.0 744.0,510.9 742.8,509.2 741.6,507.9 740.4,506.7 739.2,505.6 738.0,504.6 736.9,503.7 735.8,502.9 734.8,502.1 733.8,501.4 732.8,500.7 731.9,500.2 731.0,499.7 730.2,499.4 729.4,499.4 728.7,499.4 728.0,499.4 727.4,499.6 726.7,499.8 725.9,500.1 725.1,500.4 724.3,500.8 723.5,501.2 722.6,501.7 721.6,502.3 720.3,502.9 718.7,503.6 716.8,504.4 714.8,505.2 712.7,506.1 710.8,507.0 709.1,507.8 707.7,508.7 706.4,509.6 705.3,510.5 704.2,511.4 703.1,512.1 702.0,512.7 700.8,513.0 699.7,512.9 698.6,512.7 697.4,512.7 696.2,512.8 695.0,513.4 693.7,514.5 692.3,516.1 690.8,517.9 689.4,519.8 687.9,521.6 686.6,523.3 685.3,524.9 684.1,526.5 682.9,528.1 681.7,529.5 680.6,530.8 679.5,531.7 678.5,532.3 677.7,532.4 676.9,532.4 676.0,532.4 675.1,532.4 673.9,532.4 672.5,532.4 671.1,532.3 669.5,532.1 667.8,532.0 665.9,531.8 664.0,531.7 662.1,531.6 660.2,531.5 658.3,531.4 656.0,531.3 653.3,531.2 650.0,531.2 646.2,531.2 642.1,531.3 637.5,531.4 632.4,531.5 626.6,531.6 620.0,531.6 611.9,531.6 602.1,531.5 591.6,531.5 581.4,531.4 572.6,531.3 566.0,531.2 562.0,531.1 560.0,531.0 559.2,530.9 559.1,530.7 559.1,530.5 558.5,530.3 557.5,530.0 556.5,529.5 555.6,529.1 554.8,528.6 553.9,528.3 553.0,528.2 552.1,528.3 551.2,528.6 550.4,529.1 549.5,529.5 548.5,530.0 547.5,530.3 546.7,530.5 546.4,530.7 545.9,530.8 545.0,530.9 543.2,530.9 540.0,531.0 535.7,531.0 530.6,531.0 524.5,531.0 517.5,531.0 509.4,531.0 500.0,531.0 488.5,531.0 474.8,531.0 460.0,531.0 445.2,531.0 431.5,531.0 420.0,531.0 411.0,530.9 403.8,530.8 397.6,530.6 392.0,530.5 386.3,530.3 380.0,530.2 372.7,530.1 364.7,530.0 356.8,529.9 349.3,529.8 342.8,529.8 337.8,529.8 334.8,529.9 333.4,530.1 333.0,530.6 332.9,530.8 332.0,531.0 330.9,531.1 330.2,531.2 329.4,531.2 327.8,531.2 324.8,531.3 320.0,531.3 312.8,531.3 303.6,531.4 293.0,531.4 281.8,531.5 270.6,531.5 260.0,531.5 250.0,531.5 240.0,531.5 230.0,531.4 220.0,531.4 210.0,531.4 200.0,531.4 189.7,531.4 179.1,531.5 168.5,531.5 158.2,531.5 148.6,531.6 140.0,531.6 132.3,531.6 125.1,531.6 118.5,531.6 112.9,531.5 108.2,531.5 104.6,531.5" fill="#a7a8ad"/>
<polygon points="84,514 104.6,531 104.6,599 84,589" fill="#a4a5aa"/>
<polyline points="84,515.5 104.6,531" fill="none" stroke="#151518" stroke-width="1.6"/>
<polyline points="84,587.5 104.6,598.5" fill="none" stroke="#151518" stroke-width="3.2"/>
<line x1="104.6" y1="530.5" x2="104.6" y2="599" stroke="#151518" stroke-width="2"/>
<path d="M84.2,514.2 L84.2,588" stroke="#151518" stroke-width="6" stroke-linecap="round" fill="none"/>
<polyline points="104.6,531.5 108.2,531.5 112.9,531.5 118.5,531.6 125.1,531.6 132.3,531.6 140.0,531.6 148.6,531.6 158.2,531.5 168.5,531.5 179.1,531.5 189.7,531.4 200.0,531.4 210.0,531.4 220.0,531.4 230.0,531.4 240.0,531.5 250.0,531.5 260.0,531.5 270.6,531.5 281.8,531.5 293.0,531.4 303.6,531.4 312.8,531.3 320.0,531.3 324.8,531.3 327.8,531.2 329.4,531.2 330.2,531.2 330.9,531.1 332.0,531.0 332.9,530.8 333.0,530.6 333.4,530.1 334.8,529.9 337.8,529.8 342.8,529.8 349.3,529.8 356.8,529.9 364.7,530.0 372.7,530.1 380.0,530.2 386.3,530.3 392.0,530.5 397.6,530.6 403.8,530.8 411.0,530.9 420.0,531.0 431.5,531.0 445.2,531.0 460.0,531.0 474.8,531.0 488.5,531.0 500.0,531.0 509.4,531.0 517.5,531.0 524.5,531.0 530.6,531.0 535.7,531.0 540.0,531.0 543.2,530.9 545.0,530.9 545.9,530.8 546.4,530.7 546.7,530.5 547.5,530.3 548.5,530.0 549.5,529.5 550.4,529.1 551.2,528.6 552.1,528.3 553.0,528.2 553.9,528.3 554.8,528.6 555.6,529.1 556.5,529.5 557.5,530.0 558.5,530.3 559.1,530.5 559.1,530.7 559.2,530.9 560.0,531.0 562.0,531.1 566.0,531.2 572.6,531.3 581.4,531.4 591.6,531.5 602.1,531.5 611.9,531.6 620.0,531.6 626.6,531.6 632.4,531.5 637.5,531.4 642.1,531.3 646.2,531.2 650.0,531.2 653.3,531.2 656.0,531.3 658.3,531.4 660.2,531.5 662.1,531.6 664.0,531.7 665.9,531.8 667.8,532.0 669.5,532.1 671.1,532.3 672.5,532.4 673.9,532.4 675.1,532.4 676.0,532.4 676.9,532.4 677.7,532.4 678.5,532.3 679.5,531.7 680.6,530.8 681.7,529.5 682.9,528.1 684.1,526.5 685.3,524.9 686.6,523.3 687.9,521.6 689.4,519.8 690.8,517.9 692.3,516.1 693.7,514.5 695.0,513.4 696.2,512.8 697.4,512.7 698.6,512.7 699.7,512.9 700.8,513.0 702.0,512.7 703.1,512.1 704.2,511.4 705.3,510.5 706.4,509.6 707.7,508.7 709.1,507.8 710.8,507.0 712.7,506.1 714.8,505.2 716.8,504.4 718.7,503.6 720.3,502.9 721.6,502.3 722.6,501.7 723.5,501.2 724.3,500.8 725.1,500.4 725.9,500.1 726.7,499.8 727.4,499.6 728.0,499.4 728.7,499.4 729.4,499.4 730.2,499.4 731.0,499.7 731.9,500.2 732.8,500.7 733.8,501.4 734.8,502.1 735.8,502.9 736.9,503.7 738.0,504.6 739.2,505.6 740.4,506.7 741.6,507.9 742.8,509.2 744.0,510.9 745.2,513.0 746.5,515.2 747.7,517.2 748.8,518.8 749.8,519.8 750.7,519.8 751.4,519.6 752.1,518.8 752.8,517.7 753.4,516.6 754.1,515.5 754.8,514.3 755.4,512.7 756.0,511.0 756.7,509.5 757.4,508.4 758.3,507.8 759.3,507.9 760.4,508.5 761.5,509.5 762.8,510.7 764.0,512.1 765.3,513.4 766.6,514.9 768.0,516.6 769.4,518.5 770.8,520.4 772.3,522.0 773.8,523.3 775.4,524.2 777.0,524.9 778.7,525.3 780.4,525.6 782.0,525.9 783.6,526.1 785.1,526.1 786.6,526.1 788.0,526.1 789.3,526.1 790.7,526.1 792.0,526.1 793.3,525.7 794.5,525.1 795.7,524.4 796.9,523.7 798.0,522.8 799.1,521.9 800.1,521.0 801.0,520.1 801.9,519.1 802.8,518.0 803.7,516.6 804.7,514.8 805.8,512.4 807.0,509.6 808.2,506.4 809.5,503.2 810.6,500.4 811.7,498.0 812.6,496.2 813.4,494.7 814.1,493.4 814.9,492.4 815.7,491.6 816.6,490.9 817.7,490.9 818.9,490.9 820.2,490.9 821.4,490.9 822.6,490.9 823.7,490.9 824.6,491.5 825.4,492.3 826.1,493.2 826.7,494.2 827.5,495.4 828.4,496.6 829.3,498.0 830.2,499.7 831.2,501.5 832.3,503.2 833.7,504.7 835.5,505.7 837.8,505.7 840.7,505.7 843.8,505.7 847.0,505.7 849.9,505.7 852.3,505.7 854.2,505.3 855.6,504.6 856.9,503.9 858.1,503.2 859.3,502.6 860.8,502.2 862.5,502.2 864.4,502.3 866.3,502.5 868.3,502.8 870.2,502.9 872.0,502.9 873.7,502.6 875.5,502.2 877.1,501.7 878.8,501.2 880.4,500.6 881.9,500.1 883.3,499.6 884.6,499.0 885.8,498.4 887.1,497.8 888.6,497.4 890.3,497.3 892.4,497.5 894.8,497.9 897.4,498.5 900.0,499.1 902.4,499.7 904.4,500.1 906.0,500.4 907.3,500.6 908.3,500.8 909.3,500.8 910.3,500.8 911.4,500.8 912.6,500.5 913.7,500.0 914.9,499.4 916.1,498.9 917.2,498.7 918.4,498.7 919.5,499.2 920.7,500.0 921.8,501.0 922.9,502.2 924.2,503.6 925.5,505.0 927.0,506.8 928.6,508.9 930.3,511.2 932.0,513.3 933.7,515.1 935.3,516.3 936.8,516.3 938.2,516.3 939.6,516.3 941.0,515.7 942.4,514.9 943.8,514.1 945.2,513.1 946.6,511.9 948.0,510.6 949.4,509.1 950.8,507.7 952.2,506.4 953.7,505.1 955.2,503.7 956.7,502.4 958.2,501.1 959.5,500.1 960.6,499.4 961.4,499.4 962.0,499.4 962.5,499.5 962.9,499.8 963.4,500.1 964.1,500.1 965.0,499.7 966.0,499.1 967.1,498.4 968.2,497.7 969.2,497.3 970.2,497.3 971.0,497.7 971.7,498.3 972.3,499.2 973.0,500.3 973.7,501.5 974.7,502.9 975.9,504.6 977.3,506.7 978.8,509.0 980.3,511.1 981.7,512.9 983.1,514.1 984.3,514.1 985.5,514.1 986.7,514.1 987.8,513.6 988.9,512.9 990.0,512.3 991.1,511.6 992.2,510.7 993.3,509.7 994.3,508.8 995.4,508.1 996.3,507.7 997.1,507.9 997.8,508.5 998.5,509.3 999.2,510.1 1000.0,510.6 1000.9,510.8 1002.0,510.5 1003.3,510.0 1004.6,509.2 1006.1,508.3 1007.5,507.2 1008.8,506.1 1010.1,504.7 1011.5,503.1 1012.8,501.4 1014.1,499.6 1015.4,498.0 1016.6,496.7 1017.7,495.6 1018.7,494.7 1019.7,493.9 1020.7,493.3 1021.7,492.9 1022.8,492.8 1024.0,493.0 1025.3,493.4 1026.7,494.1 1028.1,494.9 1029.4,495.8 1030.6,496.7 1031.7,497.7 1032.8,498.7 1033.8,499.9 1034.9,501.2 1035.9,502.5 1036.9,503.8 1037.9,505.2 1038.9,506.8 1039.9,508.5 1040.9,510.1 1042.0,511.7 1043.1,513.1 1044.3,514.5 1045.5,515.8 1046.7,517.1 1048.0,518.3 1049.4,519.4 1050.9,520.2 1052.6,520.9 1054.6,521.4 1056.6,521.7 1058.6,521.7 1060.4,521.7 1061.9,521.7 1063.0,521.1 1063.9,520.3 1064.5,519.2 1065.2,518.0 1065.8,516.7 1066.6,515.5 1067.5,514.2 1068.5,512.7 1069.5,511.2 1070.6,509.7 1071.7,508.5 1072.8,507.7 1074.0,507.7 1075.2,507.7 1076.5,507.7 1077.8,507.7 1079.2,508.0 1080.6,508.4 1082.1,508.9 1083.6,509.5 1085.2,510.3 1086.8,511.1 1088.4,511.7 1090.0,512.3 1091.6,512.6 1093.3,512.8 1094.9,512.9 1096.5,513.0 1098.0,513.3 1099.4,513.9 1100.6,514.9 1101.8,516.2 1102.8,517.7 1103.8,519.2 1104.7,520.6 1105.6,521.7 1106.4,522.5 1107.0,523.3 1107.6,523.8 1108.2,524.3 1109.1,524.6 1110.3,524.8 1112.0,524.8 1114.1,524.8 1116.4,524.5 1118.7,524.2 1120.9,523.8 1122.8,523.3 1124.4,522.8 1125.7,522.3 1127.0,521.7 1128.2,520.9 1129.4,519.9 1130.6,518.6 1131.9,516.8 1133.2,514.5 1134.5,511.9 1135.9,509.3 1137.1,507.1 1138.4,505.3 1139.6,504.1 1140.8,503.1 1142.0,502.5 1143.2,502.0 1144.3,501.7 1145.5,501.5 1146.6,501.5 1147.8,501.6 1148.9,502.0 1150.0,502.4 1151.2,502.8 1152.5,503.2 1153.9,503.5 1155.5,503.8 1157.1,504.2 1158.7,504.6 1160.2,505.0 1161.7,505.4 1163.1,505.9 1164.5,506.4 1165.9,507.0 1167.1,507.6 1168.3,508.3 1169.4,508.9 1170.3,509.5 1171.1,510.2 1171.7,510.8 1172.3,511.5 1173.0,512.3 1173.7,513.1 1174.5,514.1 1175.3,515.3 1176.1,516.6 1176.9,517.7 1177.8,518.7 1178.6,519.4 1179.4,519.4 1180.3,519.4 1181.2,519.4 1182.0,519.2 1182.8,518.9 1183.5,518.7 1184.1,518.5 1184.6,518.3 1185.1,518.1 1185.4,517.8 1185.8,517.6 1186.0,517.5" fill="none" stroke="#dc0d80" stroke-width="3.3" stroke-linejoin="round"/>
<polyline points="84.0,514.8 88.0,514.8 93.6,514.7 100.1,514.6 107.1,514.5 113.9,514.5 120.0,514.4 125.1,514.3 129.7,514.3 134.1,514.2 138.7,514.2 143.9,514.1 150.0,514.1 157.1,514.1 164.8,514.1 173.1,514.1 181.9,514.1 190.9,514.2 200.0,514.2 209.7,514.2 220.0,514.3 230.6,514.4 241.1,514.4 251.0,514.5 260.0,514.5 268.1,514.5 275.8,514.5 282.9,514.5 289.3,514.5 295.1,514.5 300.0,514.5 303.9,514.5 306.9,514.5 309.2,514.5 311.0,514.5 312.5,514.5 314.0,514.4 315.1,514.2 315.6,513.9 315.8,513.5 316.1,513.2 316.9,513.0 318.5,512.8 320.9,512.8 323.7,512.9 327.0,513.0 330.8,513.2 335.1,513.4 340.0,513.5 345.6,513.6 352.0,513.7 358.8,513.8 366.0,513.9 373.1,513.9 380.0,514.0 386.4,514.1 392.6,514.1 398.8,514.2 405.2,514.2 412.2,514.3 420.0,514.3 429.1,514.3 439.3,514.4 450.0,514.4 460.7,514.4 470.9,514.4 480.0,514.4 488.2,514.4 496.1,514.4 503.4,514.4 509.9,514.4 515.5,514.4 520.0,514.4 523.0,514.4 524.5,514.4 525.1,514.4 525.2,514.4 525.4,514.4 526.0,514.2 527.1,513.9 528.1,513.4 529.2,512.9 530.4,512.4 531.5,512.0 532.6,511.9 533.6,512.0 534.4,512.4 535.2,512.9 536.2,513.4 537.6,513.9 539.5,514.2 542.1,514.4 545.2,514.4 548.7,514.4 552.4,514.4 556.2,514.4 560.0,514.4 563.7,514.4 567.5,514.5 571.4,514.5 575.4,514.5 579.6,514.6 584.0,514.6 588.7,514.6 593.7,514.6 598.9,514.6 604.1,514.6 609.2,514.6 614.0,514.6 618.7,514.6 623.6,514.7 628.2,514.7 632.7,514.7 636.6,514.8 640.0,514.8 642.6,514.8 644.6,514.9 646.1,514.9 647.4,515.0 648.6,515.0 650.0,515.0 651.5,515.0 652.9,515.0 654.3,515.0 655.7,515.0 657.0,515.0 658.4,514.8 659.8,513.3 661.3,511.3 662.7,508.9 664.1,506.4 665.5,504.1 666.9,502.2 668.3,500.7 669.6,499.4 671.0,498.2 672.3,497.2 673.5,496.5 674.6,495.9 675.5,495.9 676.3,495.9 677.0,496.4 677.7,496.8 678.5,496.8 679.5,496.8 680.7,496.1 682.1,495.0 683.5,493.8 685.0,492.4 686.5,491.2 688.0,490.2 689.4,489.5 690.7,488.9 692.1,488.3 693.4,487.9 694.9,487.3 696.4,486.7 698.1,485.9 700.0,484.9 701.9,483.9 703.8,483.0 705.5,482.3 707.0,481.8 708.1,481.8 708.9,481.8 709.6,481.8 710.2,482.2 710.9,482.7 711.9,483.2 713.1,483.9 714.5,484.8 716.0,485.8 717.5,486.9 719.0,487.9 720.3,488.8 721.5,489.6 722.7,490.2 723.7,490.9 724.8,491.5 725.7,492.2 726.6,493.0 727.4,494.0 728.1,495.2 728.8,496.5 729.4,497.7 729.8,498.7 730.2,499.4" fill="none" stroke="#151518" stroke-width="4.7" stroke-linejoin="round" stroke-linecap="round"/>
<polyline points="734.4,491.6 734.8,491.5 735.4,491.2 736.1,490.9 736.8,490.9 737.7,490.9 738.6,490.9 739.6,491.4 740.8,492.1 742.0,493.0 743.2,493.9 744.5,494.9 745.6,495.9 746.7,496.9 747.9,498.1 749.0,499.3 750.0,500.4 750.9,501.3 751.5,502.0" fill="none" stroke="#151518" stroke-width="4.7" stroke-linejoin="round" stroke-linecap="round"/>
<polyline points="759.5,508.2 760.3,508.5 761.4,509.0 762.7,509.5 764.0,510.0 765.4,510.3 766.7,510.3 767.9,510.0 769.1,509.5 770.4,508.8 771.5,508.0 772.7,507.2 773.8,506.4 774.8,505.6 775.8,504.9 776.7,504.1 777.6,503.3 778.5,502.2 779.4,500.8 780.3,499.1 781.3,497.0 782.2,494.8 783.1,492.5 784.1,490.2 785.0,488.1 785.9,486.1 786.9,484.0 787.8,481.9 788.7,480.0 789.7,478.3 790.6,476.9 791.5,475.8 792.4,475.0 793.4,474.3 794.3,473.9 795.3,473.6 796.3,473.4 797.4,473.4 798.5,473.6 799.7,473.9 800.9,474.3 802.1,474.9 803.3,475.5 804.5,476.2 805.7,477.1 806.9,478.1 808.1,479.2 809.3,480.2 810.3,481.1 811.3,482.0 812.2,482.8 813.1,483.6 813.9,484.4 814.6,485.2 815.2,486.0 815.7,486.9 816.0,487.8 816.2,488.8 816.4,489.6 816.5,490.4 816.6,490.9" fill="none" stroke="#151518" stroke-width="4.7" stroke-linejoin="round" stroke-linecap="round"/>
<polyline points="822.8,489.5 823.6,489.6 824.6,489.9 825.9,490.1 827.2,490.2 828.5,490.2 829.8,490.2 830.9,489.7 832.0,489.0 833.1,488.1 834.2,487.3 835.5,486.5 836.9,486.0 838.6,486.0 840.6,486.0 842.7,486.0 844.7,486.0 846.6,486.0 848.1,486.0 849.1,486.2 849.8,486.4 850.3,486.7 850.7,486.9 851.4,487.0 852.3,487.0 853.7,486.7 855.3,486.3 857.1,485.7 858.9,485.1 860.7,484.5 862.2,483.9 863.5,483.3 864.6,482.6 865.7,481.9 866.8,481.2 867.9,480.7 869.2,480.4 870.7,480.4 872.2,480.5 873.9,480.8 875.6,481.2 877.3,481.5 879.1,481.8 881.0,482.0 883.1,482.2 885.2,482.5 887.2,482.7 888.9,482.9 890.3,483.2 891.1,483.6 891.6,484.0 891.7,484.5 891.8,484.9 892.0,485.2 892.4,485.3 893.0,485.1 893.8,484.5 894.6,483.9 895.5,483.3 896.4,482.7 897.3,482.5 898.2,482.5 899.1,482.7 900.0,482.9 901.0,483.4 902.0,483.9 903.0,484.6 904.1,485.5 905.2,486.6 906.4,487.9 907.6,489.2 908.8,490.5 910.0,491.6 911.2,492.6 912.6,493.6 913.9,494.5 915.2,495.4 916.2,496.1 917.0,496.6" fill="none" stroke="#151518" stroke-width="4.7" stroke-linejoin="round" stroke-linecap="round"/>
<polyline points="918.4,498.7 919.0,498.2 919.7,497.6 920.6,496.9 921.6,496.0 922.8,495.0 924.1,493.8 925.7,492.3 927.6,490.5 929.6,488.6 931.7,486.7 933.6,485.1 935.3,483.9 936.7,483.3 938.0,483.2 939.1,483.2 940.2,483.2 941.3,483.3 942.3,483.2 943.3,482.9 944.3,482.4 945.2,481.8 946.2,481.4 947.1,481.1 948.0,481.1 948.9,481.4 949.9,482.0 950.8,482.7 951.8,483.6 952.7,484.4 953.6,485.2 954.5,486.0 955.5,486.7 956.4,487.5 957.3,488.4 958.2,489.2 959.0,490.0 959.8,490.9 960.6,491.8 961.4,492.8 962.2,493.7 962.8,494.5 963.2,495.0" fill="none" stroke="#151518" stroke-width="4.7" stroke-linejoin="round" stroke-linecap="round"/>
<polyline points="972.6,491.2 973.0,491.1 973.5,490.9 974.1,490.7 974.7,490.6 975.4,490.6 976.0,490.6 976.5,491.1 977.0,491.9 977.5,492.9 978.1,493.8 978.7,494.4 979.5,494.6 980.4,494.3 981.5,493.6 982.7,492.6 983.9,491.5 985.1,490.3 986.3,489.2 987.5,488.1 988.7,486.9 989.9,485.7 991.1,484.5 992.3,483.3 993.4,482.2 994.4,481.1 995.4,479.9 996.4,478.8 997.3,477.8 998.3,477.0 999.4,476.4 1000.6,476.4 1001.9,476.4 1003.2,476.4 1004.5,476.5 1005.9,476.9 1007.2,477.4 1008.5,478.1 1009.8,478.9 1011.2,479.9 1012.5,481.0 1013.7,482.1 1015.0,483.2 1016.3,484.3 1017.7,485.6 1019.0,486.9 1020.2,488.1 1021.2,489.2 1022.0,489.9" fill="none" stroke="#151518" stroke-width="4.7" stroke-linejoin="round" stroke-linecap="round"/>
<polyline points="1040.8,504.5 1041.4,503.3 1042.2,501.7 1043.1,499.7 1044.2,497.7 1045.2,495.8 1046.3,494.4 1047.4,493.3 1048.5,492.4 1049.6,491.7 1050.8,491.2 1052.0,490.8 1053.3,490.5 1054.7,490.5 1056.1,490.5 1057.5,490.8 1059.0,491.1 1060.5,491.5 1061.9,492.0 1063.2,492.5 1064.5,493.2 1065.8,494.0 1067.0,494.7 1068.3,495.4 1069.7,495.9 1071.2,496.2 1072.9,496.3 1074.5,496.3 1076.2,496.3 1077.7,496.4 1079.0,496.7 1080.1,497.2 1080.9,497.7 1081.7,498.4 1082.4,499.1 1083.1,499.8 1083.8,500.6 1084.6,501.5 1085.3,502.5 1086.0,503.5 1086.7,504.6 1087.5,505.4 1088.4,506.1 1089.3,506.5 1090.3,506.8 1091.3,506.9 1092.4,506.9 1093.5,506.9 1094.7,506.9 1095.9,506.8 1097.2,506.7 1098.6,506.5 1100.0,506.2 1101.3,505.8 1102.5,505.3 1103.6,504.7 1104.6,504.0 1105.6,503.2 1106.5,502.3 1107.6,501.2 1108.8,499.8 1110.2,498.0 1111.8,495.8 1113.4,493.5 1115.1,491.1 1116.7,489.0 1118.1,487.3 1119.3,486.1 1120.3,485.1 1121.2,484.4 1122.2,483.9 1123.2,483.5 1124.4,483.4 1125.8,483.5 1127.4,484.0 1129.1,484.7 1130.8,485.4 1132.4,486.1 1133.8,486.6 1135.0,487.0 1136.2,487.2 1137.2,487.5 1138.2,487.7 1139.1,487.9 1140.0,488.1 1140.7,488.3 1141.3,488.3 1141.8,488.4 1142.3,488.5 1143.0,488.7 1144.0,489.2 1145.4,489.9 1147.1,490.8 1149.0,491.8 1150.9,492.9 1152.6,494.0 1154.0,495.0 1155.0,496.0 1155.7,497.0 1156.3,498.0 1156.8,499.0 1157.4,499.8 1158.2,500.4 1159.3,500.8 1160.5,500.9 1161.8,500.9 1163.1,500.9 1164.2,500.9 1165.2,501.1 1165.9,501.5 1166.5,502.1 1167.0,502.7 1167.4,503.4 1167.7,503.9 1168.0,504.3" fill="none" stroke="#151518" stroke-width="4.7" stroke-linejoin="round" stroke-linecap="round"/>
<line x1="104" y1="599.2" x2="1186" y2="599.2" stroke="#3a3a36" stroke-width="1.6"/>
<line x1="104.9" y1="598" x2="104.9" y2="623.5" stroke="#151518" stroke-width="2.6"/>
<line x1="85" y1="351.5" x2="85" y2="514" stroke="#151518" stroke-width="2.4"/>
<line x1="1186.2" y1="393" x2="1186.2" y2="623" stroke="#151518" stroke-width="2.6"/>
<text x="0" y="0" font-size="13.5" fill="#3a3a3a" text-anchor="middle" transform="translate(103.5 611.6) scale(0.72 1)">0</text>
<text x="0" y="0" font-size="13.5" fill="#3a3a3a" text-anchor="middle" transform="translate(163.2 611.6) scale(0.72 1)">10</text>
<text x="0" y="0" font-size="13.5" fill="#3a3a3a" text-anchor="middle" transform="translate(219.1 611.6) scale(0.72 1)">20</text>
<text x="0" y="0" font-size="13.5" fill="#3a3a3a" text-anchor="middle" transform="translate(274.9 611.6) scale(0.72 1)">30</text>
<text x="0" y="0" font-size="13.5" fill="#3a3a3a" text-anchor="middle" transform="translate(330.8 611.6) scale(0.72 1)">40</text>
<text x="0" y="0" font-size="13.5" fill="#3a3a3a" text-anchor="middle" transform="translate(386.7 611.6) scale(0.72 1)">50</text>
<text x="0" y="0" font-size="13.5" fill="#3a3a3a" text-anchor="middle" transform="translate(442.6 611.6) scale(0.72 1)">60</text>
<text x="0" y="0" font-size="13.5" fill="#3a3a3a" text-anchor="middle" transform="translate(498.5 611.6) scale(0.72 1)">70</text>
<text x="0" y="0" font-size="13.5" fill="#3a3a3a" text-anchor="middle" transform="translate(554.3 611.6) scale(0.72 1)">80</text>
<text x="0" y="0" font-size="13.5" fill="#3a3a3a" text-anchor="middle" transform="translate(610.2 611.6) scale(0.72 1)">90</text>
<text x="0" y="0" font-size="13.5" fill="#3a3a3a" text-anchor="middle" transform="translate(669.9 611.6) scale(0.72 1)">100</text>
<text x="0" y="0" font-size="13.5" fill="#3a3a3a" text-anchor="middle" transform="translate(725.8 611.6) scale(0.72 1)">110</text>
<text x="0" y="0" font-size="13.5" fill="#3a3a3a" text-anchor="middle" transform="translate(781.7 611.6) scale(0.72 1)">120</text>
<text x="0" y="0" font-size="13.5" fill="#3a3a3a" text-anchor="middle" transform="translate(837.5 611.6) scale(0.72 1)">130</text>
<text x="0" y="0" font-size="13.5" fill="#3a3a3a" text-anchor="middle" transform="translate(893.4 611.6) scale(0.72 1)">140</text>
<text x="0" y="0" font-size="13.5" fill="#3a3a3a" text-anchor="middle" transform="translate(949.3 611.6) scale(0.72 1)">150</text>
<text x="0" y="0" font-size="13.5" fill="#3a3a3a" text-anchor="middle" transform="translate(1005.2 611.6) scale(0.72 1)">160</text>
<text x="0" y="0" font-size="13.5" fill="#3a3a3a" text-anchor="middle" transform="translate(1061.1 611.6) scale(0.72 1)">170</text>
<text x="0" y="0" font-size="13.5" fill="#3a3a3a" text-anchor="middle" transform="translate(1116.9 611.6) scale(0.72 1)">180</text>
<text x="0" y="0" font-size="13.5" fill="#3a3a3a" text-anchor="middle" transform="translate(1172.8 611.6) scale(0.72 1)">190</text>
<line x1="121.7" y1="492.5" x2="121.7" y2="515.4" stroke="#777" stroke-width="1.4"/>
<text transform="translate(126.40 485.20) rotate(-90) scale(0.6340 1)" font-size="19.5"  fill="#363636" stroke="#363636" stroke-width="0.12" textLength="146.53" lengthAdjust="spacing">4 - Silvi Marina</text>
<line x1="163.2" y1="492.5" x2="163.2" y2="515.1" stroke="#777" stroke-width="1.4"/>
<text transform="translate(167.00 485.20) rotate(-90) scale(0.6157 1)" font-size="19.5"  fill="#363636" stroke="#363636" stroke-width="0.12" textLength="94.85" lengthAdjust="spacing">6 - Pineto</text>
<line x1="206.0" y1="492.5" x2="206.0" y2="515.2" stroke="#777" stroke-width="1.4"/>
<text transform="translate(210.50 485.20) rotate(-90) scale(0.6134 1)" font-size="19.5"  fill="#363636" stroke="#363636" stroke-width="0.12" textLength="235.25" lengthAdjust="spacing">3 - Roseto degli Abruzzi</text>
<line x1="257.6" y1="492.5" x2="257.6" y2="515.5" stroke="#777" stroke-width="1.4"/>
<text transform="translate(261.70 485.20) rotate(-90) scale(0.6240 1)" font-size="19.5"  fill="#363636" stroke="#363636" stroke-width="0.12" textLength="149.04" lengthAdjust="spacing">11 - Giulianova</text>
<line x1="302.0" y1="492.5" x2="302.0" y2="515.5" stroke="#777" stroke-width="1.4"/>
<text transform="translate(307.20 485.20) rotate(-90) scale(0.6172 1)" font-size="19.5"  fill="#363636" stroke="#363636" stroke-width="0.12" textLength="169.97" lengthAdjust="spacing">5 - Tortoreto Lido</text>
<line x1="360.5" y1="492.5" x2="360.5" y2="514.8" stroke="#777" stroke-width="1.4"/>
<text transform="translate(365.30 485.20) rotate(-90) scale(0.6477 1)" font-size="19.5"  fill="#363636" stroke="#363636" stroke-width="0.12" textLength="152.69" lengthAdjust="spacing">7 - Martinsicuro</text>
<line x1="403.9" y1="492.5" x2="403.9" y2="515.2" stroke="#777" stroke-width="1.4"/>
<text transform="translate(409.10 485.20) rotate(-90) scale(0.6153 1)" font-size="19.5"  fill="#363636" stroke="#363636" stroke-width="0.12" textLength="284.56" lengthAdjust="spacing">5 - San Benedetto del Tronto</text>
<line x1="450.8" y1="492.5" x2="450.8" y2="515.4" stroke="#777" stroke-width="1.4"/>
<text transform="translate(456.90 485.20) rotate(-90) scale(0.6376 1)" font-size="19.5"  fill="#363636" stroke="#363636" stroke-width="0.12" textLength="189.63" lengthAdjust="spacing">9 - Cupra Marittima</text>
<line x1="497.1" y1="492.5" x2="497.1" y2="515.4" stroke="#777" stroke-width="1.4"/>
<text transform="translate(503.10 485.20) rotate(-90) scale(0.6102 1)" font-size="19.5"  fill="#363636" stroke="#363636" stroke-width="0.12" textLength="107.17" lengthAdjust="spacing">6 - Pedaso</text>
<line x1="555.2" y1="492.5" x2="555.2" y2="515.4" stroke="#777" stroke-width="1.4"/>
<text transform="translate(561.70 485.20) rotate(-90) scale(0.6082 1)" font-size="19.5"  fill="#363636" stroke="#363636" stroke-width="0.12" textLength="208.15" lengthAdjust="spacing">4 - Porto San Giorgio</text>
<line x1="605.5" y1="492.5" x2="605.5" y2="515.6" stroke="#777" stroke-width="1.4"/>
<text transform="translate(611.50 485.20) rotate(-90) scale(0.6141 1)" font-size="19.5"  fill="#363636" stroke="#363636" stroke-width="0.12" textLength="207.47" lengthAdjust="spacing">8 - Porto Sant'Elpidio</text>
<line x1="646.3" y1="492.5" x2="646.3" y2="515.9" stroke="#777" stroke-width="1.4"/>
<text transform="translate(650.70 485.20) rotate(-90) scale(0.6056 1)" font-size="20" font-weight="bold" fill="#111" stroke="#111" stroke-width="0.25" textLength="279.05" lengthAdjust="spacing">4 - CIVITANOVA MARCHE</text>
<line x1="684.6" y1="471.4" x2="684.6" y2="493.8" stroke="#777" stroke-width="1.4"/>
<text transform="translate(689.10 463.30) rotate(-90) scale(0.6216 1)" font-size="19.5"  fill="#363636" stroke="#363636" stroke-width="0.12" textLength="204.46" lengthAdjust="spacing">139 - Civitanova Alta</text>
<line x1="710.5" y1="459.1" x2="710.5" y2="483.4" stroke="#777" stroke-width="1.4"/>
<text transform="translate(714.60 451.90) rotate(-90) scale(0.5881 1)" font-size="20" font-weight="bold" fill="#111" stroke="#111" stroke-width="0.25" textLength="400.29" lengthAdjust="spacing">226 - CROCETTE DI MONTECOSARO</text>
<line x1="740.0" y1="467.9" x2="740.0" y2="492.6" stroke="#777" stroke-width="1.4"/>
<text transform="translate(744.60 458.00) rotate(-90) scale(0.6147 1)" font-size="19.5"  fill="#363636" stroke="#363636" stroke-width="0.12" textLength="326.98" lengthAdjust="spacing">166 - Montelupone (Sant'Ignazio)</text>
<line x1="776.1" y1="481.1" x2="776.1" y2="505.7" stroke="#777" stroke-width="1.4"/>
<text transform="translate(779.80 473.90) rotate(-90) scale(0.6303 1)" font-size="19.5"  fill="#363636" stroke="#363636" stroke-width="0.12" textLength="129.30" lengthAdjust="spacing">49 - Romitelli</text>
<line x1="797.6" y1="450.5" x2="797.6" y2="474.4" stroke="#777" stroke-width="1.4"/>
<text transform="translate(801.80 442.40) rotate(-90) scale(0.6056 1)" font-size="20" font-weight="bold" fill="#111" stroke="#111" stroke-width="0.25" textLength="175.54" lengthAdjust="spacing">284 - RECANATI</text>
<line x1="871.3" y1="457.5" x2="871.3" y2="481.4" stroke="#777" stroke-width="1.4"/>
<text transform="translate(876.30 449.40) rotate(-90) scale(0.6364 1)" font-size="19.5"  fill="#363636" stroke="#363636" stroke-width="0.12" textLength="161.38" lengthAdjust="spacing">242 - Montefano</text>
<line x1="900.5" y1="459.9" x2="900.5" y2="484.1" stroke="#777" stroke-width="1.4"/>
<text transform="translate(905.30 452.40) rotate(-90) scale(0.6188 1)" font-size="19.5"  fill="#363636" stroke="#363636" stroke-width="0.12" textLength="198.30" lengthAdjust="spacing">222 - Osteria Nuova</text>
<line x1="950.4" y1="456.4" x2="950.4" y2="483.4" stroke="#777" stroke-width="1.4"/>
<text transform="translate(954.70 448.80) rotate(-90) scale(0.5949 1)" font-size="20" font-weight="bold" fill="#111" stroke="#111" stroke-width="0.25" textLength="204.56" lengthAdjust="spacing">245 - FILOTTRANO</text>
<line x1="980.0" y1="472.2" x2="980.0" y2="495.4" stroke="#777" stroke-width="1.4"/>
<text transform="translate(984.00 464.10) rotate(-90) scale(0.6204 1)" font-size="19.5"  fill="#363636" stroke="#363636" stroke-width="0.12" textLength="199.56" lengthAdjust="spacing">138 - Ponte Musone</text>
<line x1="1002.9" y1="453.1" x2="1002.9" y2="477.4" stroke="#777" stroke-width="1.4"/>
<text transform="translate(1007.85 445.70) rotate(-90) scale(0.6272 1)" font-size="19.5"  fill="#363636" stroke="#363636" stroke-width="0.12" textLength="246.35" lengthAdjust="spacing">265 - Santa Maria Nuova</text>
<line x1="1068.5" y1="475.0" x2="1068.5" y2="496.5" stroke="#777" stroke-width="1.4"/>
<text transform="translate(1073.20 465.10) rotate(-90) scale(0.6042 1)" font-size="19.5"  fill="#363636" stroke="#363636" stroke-width="0.12" textLength="203.25" lengthAdjust="spacing">124 - Mazzangrugno</text>
<line x1="1102.2" y1="485.6" x2="1102.2" y2="506.4" stroke="#777" stroke-width="1.4"/>
<text transform="translate(1107.00 478.80) rotate(-90) scale(0.6177 1)" font-size="19.5"  fill="#363636" stroke="#363636" stroke-width="0.12" textLength="202.54" lengthAdjust="spacing">47 - Z.I. Sant'Ubaldo</text>
<line x1="1124.8" y1="462.5" x2="1124.8" y2="484.4" stroke="#777" stroke-width="1.4"/>
<text transform="translate(1129.50 454.45) rotate(-90) scale(0.6196 1)" font-size="20" font-weight="bold" fill="#111" stroke="#111" stroke-width="0.25" textLength="176.80" lengthAdjust="spacing">205 - MONSANO</text>
<text transform="translate(109.6 651.5) rotate(-90)" font-size="20" font-weight="bold" fill="#111" stroke="#111" stroke-width="0.3" textLength="19.8" lengthAdjust="spacingAndGlyphs">0.0</text>
<text transform="translate(146.9 650.7) rotate(-90)" font-size="19.5"  fill="#4a4a4a" stroke="#4a4a4a" stroke-width="0.05" textLength="19.0" lengthAdjust="spacingAndGlyphs">6.5</text>
<text transform="translate(188.5 658.3) rotate(-90)" font-size="19.5"  fill="#4a4a4a" stroke="#4a4a4a" stroke-width="0.05" textLength="26.6" lengthAdjust="spacingAndGlyphs">14.0</text>
<text transform="translate(231.5 658.3) rotate(-90)" font-size="19.5"  fill="#4a4a4a" stroke="#4a4a4a" stroke-width="0.05" textLength="26.6" lengthAdjust="spacingAndGlyphs">21.6</text>
<text transform="translate(282.9 658.3) rotate(-90)" font-size="19.5"  fill="#4a4a4a" stroke="#4a4a4a" stroke-width="0.05" textLength="26.6" lengthAdjust="spacingAndGlyphs">30.8</text>
<text transform="translate(327.4 658.3) rotate(-90)" font-size="19.5"  fill="#4a4a4a" stroke="#4a4a4a" stroke-width="0.05" textLength="26.6" lengthAdjust="spacingAndGlyphs">38.8</text>
<text transform="translate(385.7 658.3) rotate(-90)" font-size="19.5"  fill="#4a4a4a" stroke="#4a4a4a" stroke-width="0.05" textLength="26.6" lengthAdjust="spacingAndGlyphs">49.2</text>
<text transform="translate(428.9 658.3) rotate(-90)" font-size="19.5"  fill="#4a4a4a" stroke="#4a4a4a" stroke-width="0.05" textLength="26.6" lengthAdjust="spacingAndGlyphs">57.0</text>
<text transform="translate(476.3 658.3) rotate(-90)" font-size="19.5"  fill="#4a4a4a" stroke="#4a4a4a" stroke-width="0.05" textLength="26.6" lengthAdjust="spacingAndGlyphs">65.4</text>
<text transform="translate(522.7 658.3) rotate(-90)" font-size="19.5"  fill="#4a4a4a" stroke="#4a4a4a" stroke-width="0.05" textLength="26.6" lengthAdjust="spacingAndGlyphs">73.7</text>
<text transform="translate(581.0 658.3) rotate(-90)" font-size="19.5"  fill="#4a4a4a" stroke="#4a4a4a" stroke-width="0.05" textLength="26.6" lengthAdjust="spacingAndGlyphs">84.1</text>
<text transform="translate(631.5 658.3) rotate(-90)" font-size="19.5"  fill="#4a4a4a" stroke="#4a4a4a" stroke-width="0.05" textLength="26.6" lengthAdjust="spacingAndGlyphs">93.1</text>
<text transform="translate(671.3 666.0) rotate(-90)" font-size="20" font-weight="bold" fill="#111" stroke="#111" stroke-width="0.3" textLength="34.3" lengthAdjust="spacingAndGlyphs">100.3</text>
<text transform="translate(709.6 664.7) rotate(-90)" font-size="19.5"  fill="#4a4a4a" stroke="#4a4a4a" stroke-width="0.05" textLength="33.0" lengthAdjust="spacingAndGlyphs">107.1</text>
<text transform="translate(735.7 666.0) rotate(-90)" font-size="20" font-weight="bold" fill="#111" stroke="#111" stroke-width="0.3" textLength="34.3" lengthAdjust="spacingAndGlyphs">111.7</text>
<text transform="translate(765.0 664.7) rotate(-90)" font-size="19.5"  fill="#4a4a4a" stroke="#4a4a4a" stroke-width="0.05" textLength="33.0" lengthAdjust="spacingAndGlyphs">117.0</text>
<text transform="translate(801.3 664.7) rotate(-90)" font-size="19.5"  fill="#4a4a4a" stroke="#4a4a4a" stroke-width="0.05" textLength="33.0" lengthAdjust="spacingAndGlyphs">123.4</text>
<text transform="translate(822.4 666.0) rotate(-90)" font-size="20" font-weight="bold" fill="#111" stroke="#111" stroke-width="0.3" textLength="34.3" lengthAdjust="spacingAndGlyphs">127.2</text>
<text transform="translate(896.6 664.7) rotate(-90)" font-size="19.5"  fill="#4a4a4a" stroke="#4a4a4a" stroke-width="0.05" textLength="33.0" lengthAdjust="spacingAndGlyphs">140.5</text>
<text transform="translate(925.8 664.7) rotate(-90)" font-size="19.5"  fill="#4a4a4a" stroke="#4a4a4a" stroke-width="0.05" textLength="33.0" lengthAdjust="spacingAndGlyphs">145.7</text>
<text transform="translate(975.5 666.0) rotate(-90)" font-size="20" font-weight="bold" fill="#111" stroke="#111" stroke-width="0.3" textLength="34.3" lengthAdjust="spacingAndGlyphs">154.6</text>
<text transform="translate(1005.2 664.7) rotate(-90)" font-size="19.5"  fill="#4a4a4a" stroke="#4a4a4a" stroke-width="0.05" textLength="33.0" lengthAdjust="spacingAndGlyphs">159.9</text>
<text transform="translate(1027.9 664.7) rotate(-90)" font-size="19.5"  fill="#4a4a4a" stroke="#4a4a4a" stroke-width="0.05" textLength="33.0" lengthAdjust="spacingAndGlyphs">164.0</text>
<text transform="translate(1094.0 664.7) rotate(-90)" font-size="19.5"  fill="#4a4a4a" stroke="#4a4a4a" stroke-width="0.05" textLength="33.0" lengthAdjust="spacingAndGlyphs">175.7</text>
<text transform="translate(1127.9 664.7) rotate(-90)" font-size="19.5"  fill="#4a4a4a" stroke="#4a4a4a" stroke-width="0.05" textLength="33.0" lengthAdjust="spacingAndGlyphs">181.7</text>
<text transform="translate(1150.0 666.0) rotate(-90)" font-size="20" font-weight="bold" fill="#111" stroke="#111" stroke-width="0.3" textLength="34.3" lengthAdjust="spacingAndGlyphs">185.7</text>
<text transform="translate(1195.6 666.0) rotate(-90)" font-size="20" font-weight="bold" fill="#111" stroke="#111" stroke-width="0.3" textLength="34.3" lengthAdjust="spacingAndGlyphs">194.0</text>
<polyline points="104.2,678 104.2,692.8 1188.6,692.8 1188.6,678" fill="none" stroke="#a8a8a8" stroke-width="2"/>
<line x1="128.0" y1="678.3" x2="128.0" y2="692.8" stroke="#a8a8a8" stroke-width="2"/>
<line x1="412.7" y1="678.3" x2="412.7" y2="692.8" stroke="#a8a8a8" stroke-width="2"/>
<line x1="495.5" y1="678.3" x2="495.5" y2="692.8" stroke="#a8a8a8" stroke-width="2"/>
<line x1="653.0" y1="678.3" x2="653.0" y2="692.8" stroke="#a8a8a8" stroke-width="2"/>
<line x1="948.0" y1="678.3" x2="948.0" y2="692.8" stroke="#a8a8a8" stroke-width="2"/>
<text x="0" y="0" transform="translate(118.0 686.8) scale(0.74 1)" font-size="18" fill="#a4a4a4" text-anchor="middle">PE</text>
<text x="0" y="0" transform="translate(257.3 686.8) scale(0.74 1)" font-size="18" fill="#a4a4a4" text-anchor="middle">TE</text>
<text x="0" y="0" transform="translate(460.3 686.8) scale(0.74 1)" font-size="18" fill="#a4a4a4" text-anchor="middle">AP</text>
<text x="0" y="0" transform="translate(572.3 686.8) scale(0.74 1)" font-size="18" fill="#a4a4a4" text-anchor="middle">FM</text>
<text x="0" y="0" transform="translate(798.0 686.8) scale(0.74 1)" font-size="18" fill="#a4a4a4" text-anchor="middle">MC</text>
<text x="0" y="0" transform="translate(1078.9 686.8) scale(0.74 1)" font-size="18" fill="#a4a4a4" text-anchor="middle">AN</text>
<circle cx="666.6" cy="531.7" r="6.2" fill="#fff"/>
<line x1="666.6" y1="531.7" x2="666.6" y2="560" stroke="#151518" stroke-width="1.8"/>
<circle cx="666.6" cy="531.7" r="4.7" fill="#151518"/>
<circle cx="666.6" cy="573.0" r="16.3" fill="url(#gS)" stroke="#7a0648" stroke-width="1.2"/><text transform="translate(665.4 582.0) skewX(-12)" font-size="25" font-weight="bold" fill="#fff" stroke="#4a0028" stroke-width="3.6" stroke-linejoin="round" text-anchor="middle">S</text><text transform="translate(665.4 582.0) skewX(-12)" font-size="25" font-weight="bold" fill="#fff" stroke="#fff" stroke-width="1.1" stroke-linejoin="round" text-anchor="middle">S</text>
<circle cx="730.2" cy="499.4" r="6.2" fill="#fff"/>
<line x1="730.2" y1="499.4" x2="730.2" y2="560" stroke="#151518" stroke-width="1.8"/>
<circle cx="730.2" cy="499.4" r="4.7" fill="#151518"/>
<circle cx="730.2" cy="573.0" r="16.3" fill="url(#gK)" stroke="#101c50" stroke-width="1.2"/><ellipse cx="730.2" cy="561.5" rx="5" ry="2.6" fill="#b8d4f0" opacity="0.8"/><polygon points="718.0,566.0 742.4,566.0 730.2,587.2" fill="#fff"/><text transform="translate(729.6 579.8) skewX(-10) scale(0.85 1)" font-size="18" font-weight="bold" fill="#111" stroke="#111" stroke-width="0.6" text-anchor="middle">4</text>
<circle cx="816.9" cy="490.6" r="6.2" fill="#fff"/>
<line x1="816.9" y1="490.6" x2="816.9" y2="560" stroke="#151518" stroke-width="1.8"/>
<circle cx="816.9" cy="490.6" r="4.7" fill="#151518"/>
<circle cx="816.9" cy="573.0" r="16.3" fill="url(#gK)" stroke="#101c50" stroke-width="1.2"/><ellipse cx="816.9" cy="561.5" rx="5" ry="2.6" fill="#b8d4f0" opacity="0.8"/><polygon points="804.7,566.0 829.1,566.0 816.9,587.2" fill="#fff"/><text transform="translate(816.3 579.8) skewX(-10) scale(0.85 1)" font-size="18" font-weight="bold" fill="#111" stroke="#111" stroke-width="0.6" text-anchor="middle">4</text>
<circle cx="970.3" cy="497.3" r="6.2" fill="#fff"/>
<line x1="970.3" y1="497.3" x2="970.3" y2="560" stroke="#151518" stroke-width="1.8"/>
<circle cx="970.3" cy="497.3" r="4.7" fill="#151518"/>
<circle cx="970.3" cy="573.0" r="16.3" fill="url(#gS)" stroke="#7a0648" stroke-width="1.2"/><text transform="translate(969.1 582.0) skewX(-12)" font-size="25" font-weight="bold" fill="#fff" stroke="#4a0028" stroke-width="3.6" stroke-linejoin="round" text-anchor="middle">S</text><text transform="translate(969.1 582.0) skewX(-12)" font-size="25" font-weight="bold" fill="#fff" stroke="#fff" stroke-width="1.1" stroke-linejoin="round" text-anchor="middle">S</text>
<circle cx="1144.9" cy="501.6" r="6.2" fill="#fff"/>
<line x1="1144.9" y1="501.6" x2="1144.9" y2="560" stroke="#151518" stroke-width="1.8"/>
<circle cx="1144.9" cy="501.6" r="4.7" fill="#151518"/>
<circle cx="1144.9" cy="573.0" r="16.3" fill="url(#gK)" stroke="#101c50" stroke-width="1.2"/><ellipse cx="1144.9" cy="561.5" rx="5" ry="2.6" fill="#b8d4f0" opacity="0.8"/><polygon points="1132.7,566.0 1157.1,566.0 1144.9,587.2" fill="#fff"/><text transform="translate(1144.3 579.8) skewX(-10) scale(0.85 1)" font-size="18" font-weight="bold" fill="#111" stroke="#111" stroke-width="0.6" text-anchor="middle">4</text>
<text x="0" y="0" transform="translate(1023.4 507.3) scale(0.8 1)" font-size="11" fill="#6f7a70" text-anchor="middle">200</text>
<ellipse cx="1023.6" cy="532" rx="2.3" ry="3.4" fill="#a0a096" stroke="#777" stroke-width="0.6"/>
<path d="M34,358 Q34,352.5 39.5,352.5 L64.5,352.5 Q70,352.5 70,358 L70,531.5 A18,18 0 0 1 34,531.5 Z" fill="url(#pillL)" stroke="#1d9a3a" stroke-width="4"/>
<text transform="translate(60.20 505.50) rotate(-90) scale(0.7691 1)" font-size="25" font-weight="bold" fill="#111" stroke="#111" stroke-width="0.5" textLength="182.03" lengthAdjust="spacing">5 - PESCARA</text>
<circle cx="52" cy="531.4" r="15.8" fill="url(#gG)" stroke="#0e3a18" stroke-width="2"/>
<g fill="none" stroke="#eafde8" stroke-width="1.6"><circle cx="43.4" cy="536.4" r="4.2"/><circle cx="59.8" cy="536.4" r="4.4"/></g><circle cx="56.3" cy="523.3" r="2.4" fill="#eafde8"/><path d="M44.6,527 Q46,521.6 52.5,521.8 L55.2,524.2 Q57.2,527.5 55.4,529.4 L58.6,533.2 L57,534.6 L52.8,531.6 L50.8,538.4 L48.3,537.8 L48.6,531.2 Q44.6,529.8 44.6,527 Z" fill="#eafde8"/>
<path d="M1199.5,397 Q1199.5,391.5 1205,391.5 L1230,391.5 Q1235.5,391.5 1235.5,397 L1235.5,515.3 A18,18 0 0 1 1199.5,515.3 Z" fill="url(#pillR)" stroke="#e8101a" stroke-width="4"/>
<text transform="translate(1225.50 495.00) rotate(-90) scale(0.7763 1)" font-size="25" font-weight="bold" fill="#111" stroke="#111" stroke-width="0.5" textLength="119.80" lengthAdjust="spacing">97 - JESI</text>
<circle cx="1217.8" cy="514.9" r="14.8" fill="url(#gR)" stroke="#2a0606" stroke-width="2"/>
<g fill="none" stroke="#fff4f0" stroke-width="1.6"><circle cx="1209.6" cy="521.4" r="4.3"/><circle cx="1225" cy="521.4" r="4.3"/></g><circle cx="1217" cy="502.4" r="2.3" fill="#fff4f0"/><path d="M1213.2,505 Q1211.8,511 1214,516 L1215.4,523 L1218,523 L1217.6,515.5 L1220,512.5 L1224.2,517 L1225.6,515.4 L1220,508.4 Q1219.6,504.6 1216.4,503.6 Z" fill="#fff4f0"/>
<g fill="none" stroke="#111" stroke-width="2.2" stroke-linecap="round" stroke-linejoin="round">
<path d="M1200.6,564.8 C1199,567 1199,572.5 1200.2,575 C1201,576.8 1202.6,576.6 1203.4,573.6 C1204.2,570.6 1204.6,567 1205.8,565.2 C1206.8,564 1208.6,565.4 1208.9,568.5 C1209.3,572 1208.6,575.8 1205.8,578.4"/>
<path d="M1205.4,579.6 L1198.9,588.2 L1208.4,588.6 L1206.5,580.6 Z"/>
<path d="M1200.6,592.8 C1199,595 1198.8,600 1199.8,602 C1200.6,603.8 1202.4,603.6 1203.4,600.6 C1204.2,598 1204.8,594.6 1205.8,593.2 C1206.8,592 1208.4,593.4 1208.7,596.4 C1209,600 1208.2,603 1206.1,605"/>
</g>
</svg></body></html>
